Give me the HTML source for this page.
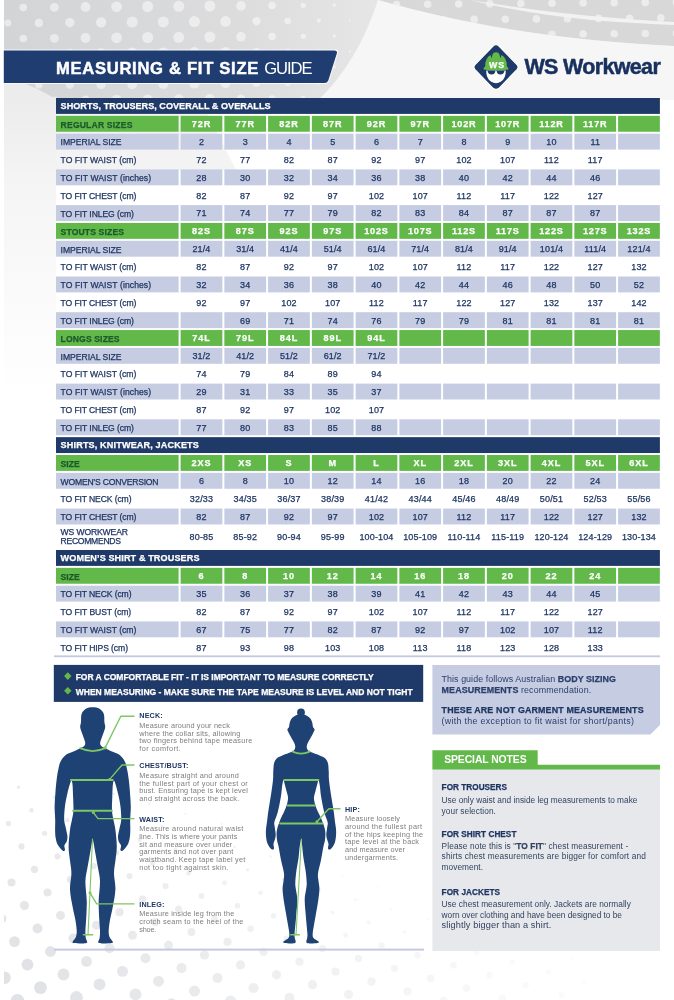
<!DOCTYPE html>
<html lang="en"><head><meta charset="utf-8"><title>WS Workwear - Measuring &amp; Fit Size Guide</title>
<style>
html,body{margin:0;padding:0}
body{width:674px;height:1000px;position:relative;overflow:hidden;background:#fff;font-family:"Liberation Sans",sans-serif;color:#1f3562}
.t{position:absolute;white-space:nowrap;line-height:1}
.s{-webkit-text-stroke:0.25px #1f3562}
b{-webkit-text-stroke:0.25px}
.sn{-webkit-text-stroke:0.5px #18305d}
.sw{-webkit-text-stroke:0.45px #fff}
.sw2{-webkit-text-stroke:0.25px #fff}
.sg{-webkit-text-stroke:0.25px #1c5a2c}
svg{position:absolute;left:0;top:0}
</style></head><body>
<svg width="674" height="1000" viewBox="0 0 674 1000">
<defs>
<linearGradient id="gt" x1="0" y1="0" x2="1" y2="0"><stop offset="0" stop-color="#d2d4d6"/><stop offset="0.35" stop-color="#dcdcdd"/><stop offset="0.56" stop-color="#e6e6e6"/><stop offset="1" stop-color="#e9e9e9"/></linearGradient>
<linearGradient id="gl" x1="0" y1="0" x2="0" y2="1"><stop offset="0" stop-color="#ececec"/><stop offset="0.3" stop-color="#f5f5f5"/><stop offset="1" stop-color="#fff"/></linearGradient>
<linearGradient id="gb" x1="0" y1="0" x2="1" y2="0"><stop offset="0" stop-color="#d2d2d2"/><stop offset="1" stop-color="#e2e2e2"/></linearGradient>
<pattern id="dots" x="8" y="-7.5" width="31" height="30" patternUnits="userSpaceOnUse"><circle cx="15.5" cy="15.0" r="5.0" fill="#e9e9e9"/><circle cx="0" cy="0" r="5.0" fill="#e9e9e9"/><circle cx="0" cy="30" r="5.0" fill="#e9e9e9"/><circle cx="31" cy="0" r="5.0" fill="#e9e9e9"/><circle cx="31" cy="30" r="5.0" fill="#e9e9e9"/></pattern>
<pattern id="dots2" x="9" y="957.5" width="30.7" height="31.4" patternUnits="userSpaceOnUse"><circle cx="15.35" cy="15.7" r="6.3" fill="#e4e4e4"/><circle cx="0" cy="0" r="6.3" fill="#e4e4e4"/><circle cx="0" cy="31.4" r="6.3" fill="#e4e4e4"/><circle cx="30.7" cy="0" r="6.3" fill="#e4e4e4"/><circle cx="30.7" cy="31.4" r="6.3" fill="#e4e4e4"/></pattern>
<linearGradient id="m1g" x1="0" y1="0" x2="1" y2="0"><stop offset="0" stop-color="#fff"/><stop offset="0.45" stop-color="#fff" stop-opacity="0.6"/><stop offset="1" stop-color="#fff" stop-opacity="0.35"/></linearGradient>
<mask id="m1"><rect x="0" y="0" width="674" height="100" fill="url(#m1g)"/></mask>
<radialGradient id="m2g" gradientUnits="userSpaceOnUse" cx="0" cy="0" r="1" gradientTransform="translate(0 1000) scale(330 215)"><stop offset="0" stop-color="#fff"/><stop offset="0.4" stop-color="#fff" stop-opacity="0.7"/><stop offset="0.75" stop-color="#fff" stop-opacity="0.25"/><stop offset="1" stop-color="#fff" stop-opacity="0"/></radialGradient>
<radialGradient id="m3g" gradientUnits="userSpaceOnUse" cx="0" cy="0" r="1" gradientTransform="translate(150 1010) scale(440 80)"><stop offset="0" stop-color="#fff"/><stop offset="0.6" stop-color="#fff" stop-opacity="0.7"/><stop offset="1" stop-color="#fff" stop-opacity="0"/></radialGradient>
<mask id="m2"><rect x="0" y="700" width="674" height="300" fill="url(#m2g)"/><rect x="0" y="900" width="674" height="100" fill="url(#m3g)"/></mask>
<clipPath id="cpL"><rect x="4" y="0" width="400" height="100"/></clipPath><clipPath id="cpR"><path d="M378 0H674V46C560 40 470 26 378 0Z"/></clipPath>
</defs>
<rect x="4" y="0" width="670" height="100" fill="url(#gt)"/>
<path d="M378 0H674V46C560 40 470 26 378 0Z" fill="#d8d8d8"/>
<g fill="#fff" opacity="0.5" clip-path="url(#cpL)"><circle cx="-7.8" cy="7.8" r="3.3"/><circle cx="23.3" cy="7.5" r="3.8"/><circle cx="54.4" cy="7.3" r="4.4"/><circle cx="85.5" cy="7.0" r="4.9"/><circle cx="116.6" cy="6.8" r="5.4"/><circle cx="147.7" cy="6.5" r="5.5"/><circle cx="178.8" cy="6.3" r="5.5"/><circle cx="209.9" cy="6.0" r="5.5"/><circle cx="241.0" cy="5.8" r="4.8"/><circle cx="272.1" cy="5.5" r="3.7"/><circle cx="303.2" cy="5.3" r="2.6"/><circle cx="334.3" cy="5.0" r="1.6"/><circle cx="-23.4" cy="23.4" r="3.0"/><circle cx="7.8" cy="23.1" r="3.5"/><circle cx="38.9" cy="22.9" r="4.1"/><circle cx="69.9" cy="22.6" r="4.6"/><circle cx="101.1" cy="22.4" r="5.2"/><circle cx="132.2" cy="22.1" r="5.5"/><circle cx="163.3" cy="21.9" r="5.5"/><circle cx="194.4" cy="21.6" r="5.5"/><circle cx="225.5" cy="21.4" r="5.3"/><circle cx="256.6" cy="21.1" r="4.2"/><circle cx="287.7" cy="20.9" r="3.2"/><circle cx="318.8" cy="20.6" r="2.1"/><circle cx="349.9" cy="20.4" r="1.0"/><circle cx="-7.8" cy="38.8" r="3.3"/><circle cx="23.3" cy="38.5" r="3.8"/><circle cx="54.4" cy="38.3" r="4.4"/><circle cx="85.5" cy="38.0" r="4.9"/><circle cx="116.6" cy="37.8" r="5.4"/><circle cx="147.7" cy="37.5" r="5.5"/><circle cx="178.8" cy="37.3" r="5.5"/><circle cx="209.9" cy="37.0" r="5.5"/><circle cx="241.0" cy="36.8" r="4.8"/><circle cx="272.1" cy="36.5" r="3.7"/><circle cx="303.2" cy="36.3" r="2.6"/><circle cx="334.3" cy="36.0" r="1.6"/><circle cx="-23.4" cy="54.4" r="3.0"/><circle cx="7.8" cy="54.1" r="3.5"/><circle cx="38.9" cy="53.9" r="4.1"/><circle cx="69.9" cy="53.6" r="4.6"/><circle cx="101.1" cy="53.4" r="5.2"/><circle cx="132.2" cy="53.1" r="5.5"/><circle cx="163.3" cy="52.9" r="5.5"/><circle cx="194.4" cy="52.6" r="5.5"/><circle cx="225.5" cy="52.4" r="5.3"/><circle cx="256.6" cy="52.1" r="4.2"/><circle cx="287.7" cy="51.9" r="3.2"/><circle cx="318.8" cy="51.7" r="2.1"/><circle cx="349.9" cy="51.4" r="1.0"/><circle cx="-7.8" cy="69.8" r="3.3"/><circle cx="23.3" cy="69.5" r="3.8"/><circle cx="54.4" cy="69.3" r="4.4"/><circle cx="85.5" cy="69.0" r="4.9"/><circle cx="116.6" cy="68.8" r="5.4"/><circle cx="147.7" cy="68.5" r="5.5"/><circle cx="178.8" cy="68.3" r="5.5"/><circle cx="209.9" cy="68.0" r="5.5"/><circle cx="241.0" cy="67.8" r="4.8"/><circle cx="272.1" cy="67.5" r="3.7"/><circle cx="303.2" cy="67.3" r="2.6"/><circle cx="334.3" cy="67.0" r="1.6"/><circle cx="-23.4" cy="85.4" r="2.7"/><circle cx="7.8" cy="85.1" r="3.2"/><circle cx="38.9" cy="84.9" r="3.7"/><circle cx="69.9" cy="84.6" r="4.2"/><circle cx="101.1" cy="84.4" r="4.7"/><circle cx="132.2" cy="84.1" r="5.0"/><circle cx="163.3" cy="83.9" r="5.0"/><circle cx="194.4" cy="83.6" r="5.0"/><circle cx="225.5" cy="83.4" r="4.8"/><circle cx="256.6" cy="83.1" r="3.8"/><circle cx="287.7" cy="82.9" r="2.9"/><circle cx="318.8" cy="82.7" r="1.9"/><circle cx="349.9" cy="82.4" r="0.9"/><circle cx="-7.8" cy="100.8" r="2.9"/><circle cx="23.3" cy="100.5" r="3.4"/><circle cx="54.4" cy="100.3" r="3.9"/><circle cx="85.5" cy="100.0" r="4.4"/><circle cx="116.6" cy="99.8" r="4.9"/><circle cx="147.7" cy="99.5" r="5.0"/><circle cx="178.8" cy="99.3" r="5.0"/><circle cx="209.9" cy="99.0" r="5.0"/><circle cx="241.0" cy="98.8" r="4.3"/><circle cx="272.1" cy="98.5" r="3.3"/><circle cx="303.2" cy="98.3" r="2.4"/><circle cx="334.3" cy="98.0" r="1.4"/></g><g fill="#fff" opacity="0.5" clip-path="url(#cpR)"><circle cx="396.5" cy="4.5" r="3.8"/><circle cx="427.6" cy="4.3" r="3.8"/><circle cx="458.7" cy="4.0" r="3.8"/><circle cx="489.8" cy="3.8" r="3.8"/><circle cx="520.9" cy="3.5" r="3.8"/><circle cx="552.0" cy="3.3" r="3.8"/><circle cx="583.1" cy="3.0" r="3.8"/><circle cx="614.2" cy="2.8" r="3.8"/><circle cx="645.3" cy="2.5" r="3.8"/><circle cx="676.4" cy="2.3" r="3.8"/><circle cx="707.5" cy="2.0" r="3.8"/><circle cx="738.6" cy="1.8" r="3.8"/><circle cx="412.1" cy="19.9" r="3.8"/><circle cx="443.2" cy="19.7" r="3.8"/><circle cx="474.2" cy="19.4" r="3.8"/><circle cx="505.3" cy="19.2" r="3.8"/><circle cx="536.4" cy="18.9" r="3.8"/><circle cx="567.5" cy="18.7" r="3.8"/><circle cx="598.6" cy="18.4" r="3.8"/><circle cx="629.7" cy="18.2" r="3.8"/><circle cx="660.8" cy="17.9" r="3.8"/><circle cx="691.9" cy="17.7" r="3.8"/><circle cx="723.0" cy="17.4" r="3.8"/><circle cx="396.5" cy="35.5" r="3.8"/><circle cx="427.6" cy="35.3" r="3.8"/><circle cx="458.7" cy="35.0" r="3.8"/><circle cx="489.8" cy="34.8" r="3.8"/><circle cx="520.9" cy="34.5" r="3.8"/><circle cx="552.0" cy="34.3" r="3.8"/><circle cx="583.1" cy="34.0" r="3.8"/><circle cx="614.2" cy="33.8" r="3.8"/><circle cx="645.3" cy="33.5" r="3.8"/><circle cx="676.4" cy="33.3" r="3.8"/><circle cx="707.5" cy="33.0" r="3.8"/><circle cx="738.6" cy="32.8" r="3.8"/><circle cx="412.1" cy="50.9" r="3.8"/><circle cx="443.2" cy="50.7" r="3.8"/><circle cx="474.2" cy="50.4" r="3.8"/><circle cx="505.3" cy="50.2" r="3.8"/><circle cx="536.4" cy="49.9" r="3.8"/><circle cx="567.5" cy="49.7" r="3.8"/><circle cx="598.6" cy="49.4" r="3.8"/><circle cx="629.7" cy="49.2" r="3.8"/><circle cx="660.8" cy="48.9" r="3.8"/><circle cx="691.9" cy="48.7" r="3.8"/><circle cx="723.0" cy="48.4" r="3.8"/></g>
<path d="M378 0C470 26 560 40 674 46V100H318C345 75 365 40 378 0Z" fill="#f6f6f6"/>
<path d="M470 0C540 12 600 18 674 22V25C600 22 540 17 470 0Z" fill="#f2f2f2"/>
<rect x="4" y="100" width="52" height="300" fill="url(#gl)"/>
<path d="M4 84H26C40 90 50 95 56 100H4Z" fill="#ececec"/>
<path d="M56 100H200L236 170H56Z" fill="#f3f3f3"/>
<g fill="#e1e2e5"><circle cx="4.5" cy="977.7" r="6.3" opacity="1.00"/><circle cx="17.5" cy="1000.7" r="6.8" opacity="1.00"/><circle cx="1.5" cy="918.6" r="4.9" opacity="0.91"/><circle cx="14.5" cy="941.6" r="5.4" opacity="0.95"/><circle cx="27.5" cy="964.6" r="5.9" opacity="0.99"/><circle cx="40.5" cy="987.6" r="6.4" opacity="0.99"/><circle cx="-1.5" cy="859.5" r="3.5" opacity="0.79"/><circle cx="11.5" cy="882.5" r="4.0" opacity="0.83"/><circle cx="24.5" cy="905.5" r="4.5" opacity="0.87"/><circle cx="37.5" cy="928.5" r="5.0" opacity="0.90"/><circle cx="50.5" cy="951.5" r="5.4" opacity="0.92"/><circle cx="63.5" cy="974.5" r="5.9" opacity="0.94"/><circle cx="76.5" cy="997.5" r="6.4" opacity="0.93"/><circle cx="-4.5" cy="800.4" r="2.1" opacity="0.68"/><circle cx="8.5" cy="823.4" r="2.6" opacity="0.72"/><circle cx="21.5" cy="846.4" r="3.1" opacity="0.76"/><circle cx="34.5" cy="869.4" r="3.6" opacity="0.79"/><circle cx="47.5" cy="892.4" r="4.0" opacity="0.82"/><circle cx="60.5" cy="915.4" r="4.5" opacity="0.84"/><circle cx="73.5" cy="938.4" r="5.0" opacity="0.85"/><circle cx="86.5" cy="961.4" r="5.4" opacity="0.87"/><circle cx="99.5" cy="984.4" r="5.9" opacity="0.89"/><circle cx="112.5" cy="1007.4" r="6.4" opacity="0.87"/><circle cx="18.5" cy="787.3" r="1.7" opacity="0.64"/><circle cx="31.5" cy="810.3" r="2.2" opacity="0.68"/><circle cx="44.5" cy="833.3" r="2.6" opacity="0.70"/><circle cx="57.5" cy="856.3" r="3.1" opacity="0.73"/><circle cx="70.5" cy="879.3" r="3.6" opacity="0.75"/><circle cx="83.5" cy="902.3" r="4.0" opacity="0.77"/><circle cx="96.5" cy="925.3" r="4.5" opacity="0.79"/><circle cx="109.5" cy="948.3" r="5.0" opacity="0.80"/><circle cx="122.5" cy="971.3" r="5.5" opacity="0.82"/><circle cx="135.5" cy="994.3" r="5.9" opacity="0.83"/><circle cx="54.5" cy="797.2" r="1.7" opacity="0.62"/><circle cx="67.5" cy="820.2" r="2.2" opacity="0.64"/><circle cx="80.5" cy="843.2" r="2.6" opacity="0.67"/><circle cx="93.5" cy="866.2" r="3.1" opacity="0.69"/><circle cx="106.5" cy="889.2" r="3.6" opacity="0.71"/><circle cx="119.5" cy="912.2" r="4.1" opacity="0.72"/><circle cx="132.5" cy="935.2" r="4.5" opacity="0.74"/><circle cx="145.5" cy="958.2" r="5.0" opacity="0.75"/><circle cx="158.5" cy="981.2" r="5.5" opacity="0.77"/><circle cx="171.5" cy="1004.2" r="5.9" opacity="0.78"/><circle cx="77.5" cy="784.1" r="1.2" opacity="0.56"/><circle cx="90.5" cy="807.1" r="1.7" opacity="0.58"/><circle cx="103.5" cy="830.1" r="2.2" opacity="0.61"/><circle cx="116.5" cy="853.1" r="2.7" opacity="0.63"/><circle cx="129.5" cy="876.1" r="3.1" opacity="0.64"/><circle cx="142.5" cy="899.1" r="3.6" opacity="0.66"/><circle cx="155.5" cy="922.1" r="4.0" opacity="0.68"/><circle cx="168.5" cy="945.1" r="4.5" opacity="0.69"/><circle cx="181.5" cy="968.1" r="5.0" opacity="0.70"/><circle cx="194.5" cy="991.1" r="5.5" opacity="0.71"/><circle cx="113.5" cy="794.0" r="1.3" opacity="0.53"/><circle cx="126.5" cy="817.0" r="1.7" opacity="0.55"/><circle cx="139.5" cy="840.0" r="2.2" opacity="0.57"/><circle cx="152.5" cy="863.0" r="2.7" opacity="0.59"/><circle cx="165.5" cy="886.0" r="3.1" opacity="0.60"/><circle cx="178.5" cy="909.0" r="3.5" opacity="0.61"/><circle cx="191.5" cy="932.0" r="3.9" opacity="0.62"/><circle cx="204.5" cy="955.0" r="4.6" opacity="0.64"/><circle cx="217.5" cy="978.0" r="5.0" opacity="0.65"/><circle cx="230.5" cy="1001.0" r="5.5" opacity="0.66"/><circle cx="149.5" cy="803.9" r="1.3" opacity="0.49"/><circle cx="162.5" cy="826.9" r="1.7" opacity="0.51"/><circle cx="175.5" cy="849.9" r="2.1" opacity="0.52"/><circle cx="188.5" cy="872.9" r="2.5" opacity="0.54"/><circle cx="201.5" cy="895.9" r="2.9" opacity="0.55"/><circle cx="214.5" cy="918.9" r="3.4" opacity="0.56"/><circle cx="227.5" cy="941.9" r="4.1" opacity="0.58"/><circle cx="240.5" cy="964.9" r="4.6" opacity="0.59"/><circle cx="253.5" cy="987.9" r="5.0" opacity="0.60"/><circle cx="185.5" cy="813.8" r="1.1" opacity="0.45"/><circle cx="198.5" cy="836.8" r="1.6" opacity="0.47"/><circle cx="211.5" cy="859.8" r="2.0" opacity="0.48"/><circle cx="224.5" cy="882.8" r="2.4" opacity="0.49"/><circle cx="237.5" cy="905.8" r="2.8" opacity="0.50"/><circle cx="250.5" cy="928.8" r="3.2" opacity="0.51"/><circle cx="263.5" cy="951.8" r="4.1" opacity="0.54"/><circle cx="276.5" cy="974.8" r="4.6" opacity="0.54"/><circle cx="289.5" cy="997.8" r="5.1" opacity="0.55"/><circle cx="221.5" cy="823.7" r="1.0" opacity="0.41"/><circle cx="234.5" cy="846.7" r="1.4" opacity="0.42"/><circle cx="247.5" cy="869.7" r="1.8" opacity="0.43"/><circle cx="260.5" cy="892.7" r="2.3" opacity="0.44"/><circle cx="273.5" cy="915.7" r="2.7" opacity="0.45"/><circle cx="286.5" cy="938.7" r="3.1" opacity="0.46"/><circle cx="299.5" cy="961.7" r="4.1" opacity="0.49"/><circle cx="312.5" cy="984.7" r="4.6" opacity="0.50"/><circle cx="325.5" cy="1007.7" r="5.1" opacity="0.50"/><circle cx="270.5" cy="856.6" r="1.3" opacity="0.38"/><circle cx="283.5" cy="879.6" r="1.7" opacity="0.39"/><circle cx="296.5" cy="902.6" r="2.1" opacity="0.40"/><circle cx="309.5" cy="925.6" r="2.6" opacity="0.40"/><circle cx="322.5" cy="948.6" r="3.7" opacity="0.44"/><circle cx="335.5" cy="971.6" r="4.1" opacity="0.44"/><circle cx="348.5" cy="994.6" r="4.6" opacity="0.45"/><circle cx="306.5" cy="866.5" r="1.2" opacity="0.34"/><circle cx="319.5" cy="889.5" r="1.6" opacity="0.35"/><circle cx="332.5" cy="912.5" r="2.0" opacity="0.35"/><circle cx="345.5" cy="935.5" r="2.4" opacity="0.36"/><circle cx="358.5" cy="958.5" r="3.7" opacity="0.40"/><circle cx="371.5" cy="981.5" r="4.2" opacity="0.40"/><circle cx="384.5" cy="1004.5" r="4.6" opacity="0.40"/><circle cx="342.5" cy="876.4" r="1.0" opacity="0.30"/><circle cx="355.5" cy="899.4" r="1.5" opacity="0.31"/><circle cx="368.5" cy="922.4" r="1.9" opacity="0.31"/><circle cx="381.5" cy="945.4" r="3.2" opacity="0.35"/><circle cx="394.5" cy="968.4" r="3.7" opacity="0.35"/><circle cx="407.5" cy="991.4" r="4.2" opacity="0.35"/><circle cx="378.5" cy="886.3" r="0.9" opacity="0.26"/><circle cx="391.5" cy="909.3" r="1.3" opacity="0.27"/><circle cx="404.5" cy="932.3" r="1.7" opacity="0.27"/><circle cx="417.5" cy="955.3" r="3.2" opacity="0.31"/><circle cx="430.5" cy="978.3" r="3.7" opacity="0.31"/><circle cx="443.5" cy="1001.3" r="4.2" opacity="0.30"/><circle cx="427.5" cy="919.2" r="1.2" opacity="0.23"/><circle cx="440.5" cy="942.2" r="2.8" opacity="0.26"/><circle cx="453.5" cy="965.2" r="3.3" opacity="0.26"/><circle cx="466.5" cy="988.2" r="3.7" opacity="0.26"/><circle cx="463.5" cy="929.1" r="1.1" opacity="0.19"/><circle cx="476.5" cy="952.1" r="2.8" opacity="0.22"/><circle cx="489.5" cy="975.1" r="3.3" opacity="0.22"/><circle cx="502.5" cy="998.1" r="3.7" opacity="0.21"/><circle cx="499.5" cy="939.0" r="0.9" opacity="0.16"/><circle cx="512.5" cy="962.0" r="2.8" opacity="0.18"/><circle cx="525.5" cy="985.0" r="3.3" opacity="0.18"/><circle cx="538.5" cy="1008.0" r="3.8" opacity="0.17"/><circle cx="535.5" cy="948.9" r="2.4" opacity="0.15"/><circle cx="548.5" cy="971.9" r="2.8" opacity="0.14"/><circle cx="561.5" cy="994.9" r="3.3" opacity="0.13"/><circle cx="571.5" cy="958.8" r="2.4" opacity="0.11"/><circle cx="584.5" cy="981.8" r="2.8" opacity="0.10"/><circle cx="597.5" cy="1004.8" r="3.3" opacity="0.09"/></g>
<rect x="0" y="780" width="4" height="220" fill="#fff"/>
</svg>
<svg width="674" height="1000" viewBox="0 0 674 1000">
<rect x="56.0" y="98.00" width="603.90" height="15.9" fill="#1f3a68"/>
<rect x="56.0" y="115.85" width="122.6" height="15.9" fill="#62b94a"/>
<rect x="180.60" y="115.85" width="41.75" height="15.9" fill="#62b94a"/>
<rect x="224.35" y="115.85" width="41.75" height="15.9" fill="#62b94a"/>
<rect x="268.10" y="115.85" width="41.75" height="15.9" fill="#62b94a"/>
<rect x="311.85" y="115.85" width="41.75" height="15.9" fill="#62b94a"/>
<rect x="355.60" y="115.85" width="41.75" height="15.9" fill="#62b94a"/>
<rect x="399.35" y="115.85" width="41.75" height="15.9" fill="#62b94a"/>
<rect x="443.10" y="115.85" width="41.75" height="15.9" fill="#62b94a"/>
<rect x="486.85" y="115.85" width="41.75" height="15.9" fill="#62b94a"/>
<rect x="530.60" y="115.85" width="41.75" height="15.9" fill="#62b94a"/>
<rect x="574.35" y="115.85" width="41.75" height="15.9" fill="#62b94a"/>
<rect x="618.10" y="115.85" width="41.75" height="15.9" fill="#62b94a"/>
<rect x="56.0" y="133.70" width="122.6" height="15.9" fill="#c6cde3"/>
<rect x="180.60" y="133.70" width="41.75" height="15.9" fill="#c6cde3"/>
<rect x="224.35" y="133.70" width="41.75" height="15.9" fill="#c6cde3"/>
<rect x="268.10" y="133.70" width="41.75" height="15.9" fill="#c6cde3"/>
<rect x="311.85" y="133.70" width="41.75" height="15.9" fill="#c6cde3"/>
<rect x="355.60" y="133.70" width="41.75" height="15.9" fill="#c6cde3"/>
<rect x="399.35" y="133.70" width="41.75" height="15.9" fill="#c6cde3"/>
<rect x="443.10" y="133.70" width="41.75" height="15.9" fill="#c6cde3"/>
<rect x="486.85" y="133.70" width="41.75" height="15.9" fill="#c6cde3"/>
<rect x="530.60" y="133.70" width="41.75" height="15.9" fill="#c6cde3"/>
<rect x="574.35" y="133.70" width="41.75" height="15.9" fill="#c6cde3"/>
<rect x="618.10" y="133.70" width="41.75" height="15.9" fill="#c6cde3"/>
<rect x="56.0" y="169.40" width="122.6" height="15.9" fill="#c6cde3"/>
<rect x="180.60" y="169.40" width="41.75" height="15.9" fill="#c6cde3"/>
<rect x="224.35" y="169.40" width="41.75" height="15.9" fill="#c6cde3"/>
<rect x="268.10" y="169.40" width="41.75" height="15.9" fill="#c6cde3"/>
<rect x="311.85" y="169.40" width="41.75" height="15.9" fill="#c6cde3"/>
<rect x="355.60" y="169.40" width="41.75" height="15.9" fill="#c6cde3"/>
<rect x="399.35" y="169.40" width="41.75" height="15.9" fill="#c6cde3"/>
<rect x="443.10" y="169.40" width="41.75" height="15.9" fill="#c6cde3"/>
<rect x="486.85" y="169.40" width="41.75" height="15.9" fill="#c6cde3"/>
<rect x="530.60" y="169.40" width="41.75" height="15.9" fill="#c6cde3"/>
<rect x="574.35" y="169.40" width="41.75" height="15.9" fill="#c6cde3"/>
<rect x="618.10" y="169.40" width="41.75" height="15.9" fill="#c6cde3"/>
<rect x="56.0" y="205.10" width="122.6" height="15.9" fill="#c6cde3"/>
<rect x="180.60" y="205.10" width="41.75" height="15.9" fill="#c6cde3"/>
<rect x="224.35" y="205.10" width="41.75" height="15.9" fill="#c6cde3"/>
<rect x="268.10" y="205.10" width="41.75" height="15.9" fill="#c6cde3"/>
<rect x="311.85" y="205.10" width="41.75" height="15.9" fill="#c6cde3"/>
<rect x="355.60" y="205.10" width="41.75" height="15.9" fill="#c6cde3"/>
<rect x="399.35" y="205.10" width="41.75" height="15.9" fill="#c6cde3"/>
<rect x="443.10" y="205.10" width="41.75" height="15.9" fill="#c6cde3"/>
<rect x="486.85" y="205.10" width="41.75" height="15.9" fill="#c6cde3"/>
<rect x="530.60" y="205.10" width="41.75" height="15.9" fill="#c6cde3"/>
<rect x="574.35" y="205.10" width="41.75" height="15.9" fill="#c6cde3"/>
<rect x="618.10" y="205.10" width="41.75" height="15.9" fill="#c6cde3"/>
<rect x="56.0" y="222.95" width="122.6" height="15.9" fill="#62b94a"/>
<rect x="180.60" y="222.95" width="41.75" height="15.9" fill="#62b94a"/>
<rect x="224.35" y="222.95" width="41.75" height="15.9" fill="#62b94a"/>
<rect x="268.10" y="222.95" width="41.75" height="15.9" fill="#62b94a"/>
<rect x="311.85" y="222.95" width="41.75" height="15.9" fill="#62b94a"/>
<rect x="355.60" y="222.95" width="41.75" height="15.9" fill="#62b94a"/>
<rect x="399.35" y="222.95" width="41.75" height="15.9" fill="#62b94a"/>
<rect x="443.10" y="222.95" width="41.75" height="15.9" fill="#62b94a"/>
<rect x="486.85" y="222.95" width="41.75" height="15.9" fill="#62b94a"/>
<rect x="530.60" y="222.95" width="41.75" height="15.9" fill="#62b94a"/>
<rect x="574.35" y="222.95" width="41.75" height="15.9" fill="#62b94a"/>
<rect x="618.10" y="222.95" width="41.75" height="15.9" fill="#62b94a"/>
<rect x="56.0" y="240.80" width="122.6" height="15.9" fill="#c6cde3"/>
<rect x="180.60" y="240.80" width="41.75" height="15.9" fill="#c6cde3"/>
<rect x="224.35" y="240.80" width="41.75" height="15.9" fill="#c6cde3"/>
<rect x="268.10" y="240.80" width="41.75" height="15.9" fill="#c6cde3"/>
<rect x="311.85" y="240.80" width="41.75" height="15.9" fill="#c6cde3"/>
<rect x="355.60" y="240.80" width="41.75" height="15.9" fill="#c6cde3"/>
<rect x="399.35" y="240.80" width="41.75" height="15.9" fill="#c6cde3"/>
<rect x="443.10" y="240.80" width="41.75" height="15.9" fill="#c6cde3"/>
<rect x="486.85" y="240.80" width="41.75" height="15.9" fill="#c6cde3"/>
<rect x="530.60" y="240.80" width="41.75" height="15.9" fill="#c6cde3"/>
<rect x="574.35" y="240.80" width="41.75" height="15.9" fill="#c6cde3"/>
<rect x="618.10" y="240.80" width="41.75" height="15.9" fill="#c6cde3"/>
<rect x="56.0" y="276.50" width="122.6" height="15.9" fill="#c6cde3"/>
<rect x="180.60" y="276.50" width="41.75" height="15.9" fill="#c6cde3"/>
<rect x="224.35" y="276.50" width="41.75" height="15.9" fill="#c6cde3"/>
<rect x="268.10" y="276.50" width="41.75" height="15.9" fill="#c6cde3"/>
<rect x="311.85" y="276.50" width="41.75" height="15.9" fill="#c6cde3"/>
<rect x="355.60" y="276.50" width="41.75" height="15.9" fill="#c6cde3"/>
<rect x="399.35" y="276.50" width="41.75" height="15.9" fill="#c6cde3"/>
<rect x="443.10" y="276.50" width="41.75" height="15.9" fill="#c6cde3"/>
<rect x="486.85" y="276.50" width="41.75" height="15.9" fill="#c6cde3"/>
<rect x="530.60" y="276.50" width="41.75" height="15.9" fill="#c6cde3"/>
<rect x="574.35" y="276.50" width="41.75" height="15.9" fill="#c6cde3"/>
<rect x="618.10" y="276.50" width="41.75" height="15.9" fill="#c6cde3"/>
<rect x="56.0" y="312.20" width="122.6" height="15.9" fill="#c6cde3"/>
<rect x="180.60" y="312.20" width="41.75" height="15.9" fill="#c6cde3"/>
<rect x="224.35" y="312.20" width="41.75" height="15.9" fill="#c6cde3"/>
<rect x="268.10" y="312.20" width="41.75" height="15.9" fill="#c6cde3"/>
<rect x="311.85" y="312.20" width="41.75" height="15.9" fill="#c6cde3"/>
<rect x="355.60" y="312.20" width="41.75" height="15.9" fill="#c6cde3"/>
<rect x="399.35" y="312.20" width="41.75" height="15.9" fill="#c6cde3"/>
<rect x="443.10" y="312.20" width="41.75" height="15.9" fill="#c6cde3"/>
<rect x="486.85" y="312.20" width="41.75" height="15.9" fill="#c6cde3"/>
<rect x="530.60" y="312.20" width="41.75" height="15.9" fill="#c6cde3"/>
<rect x="574.35" y="312.20" width="41.75" height="15.9" fill="#c6cde3"/>
<rect x="618.10" y="312.20" width="41.75" height="15.9" fill="#c6cde3"/>
<rect x="56.0" y="330.05" width="122.6" height="15.9" fill="#62b94a"/>
<rect x="180.60" y="330.05" width="41.75" height="15.9" fill="#62b94a"/>
<rect x="224.35" y="330.05" width="41.75" height="15.9" fill="#62b94a"/>
<rect x="268.10" y="330.05" width="41.75" height="15.9" fill="#62b94a"/>
<rect x="311.85" y="330.05" width="41.75" height="15.9" fill="#62b94a"/>
<rect x="355.60" y="330.05" width="41.75" height="15.9" fill="#62b94a"/>
<rect x="399.35" y="330.05" width="41.75" height="15.9" fill="#62b94a"/>
<rect x="443.10" y="330.05" width="41.75" height="15.9" fill="#62b94a"/>
<rect x="486.85" y="330.05" width="41.75" height="15.9" fill="#62b94a"/>
<rect x="530.60" y="330.05" width="41.75" height="15.9" fill="#62b94a"/>
<rect x="574.35" y="330.05" width="41.75" height="15.9" fill="#62b94a"/>
<rect x="618.10" y="330.05" width="41.75" height="15.9" fill="#62b94a"/>
<rect x="56.0" y="347.90" width="122.6" height="15.9" fill="#c6cde3"/>
<rect x="180.60" y="347.90" width="41.75" height="15.9" fill="#c6cde3"/>
<rect x="224.35" y="347.90" width="41.75" height="15.9" fill="#c6cde3"/>
<rect x="268.10" y="347.90" width="41.75" height="15.9" fill="#c6cde3"/>
<rect x="311.85" y="347.90" width="41.75" height="15.9" fill="#c6cde3"/>
<rect x="355.60" y="347.90" width="41.75" height="15.9" fill="#c6cde3"/>
<rect x="399.35" y="347.90" width="41.75" height="15.9" fill="#c6cde3"/>
<rect x="443.10" y="347.90" width="41.75" height="15.9" fill="#c6cde3"/>
<rect x="486.85" y="347.90" width="41.75" height="15.9" fill="#c6cde3"/>
<rect x="530.60" y="347.90" width="41.75" height="15.9" fill="#c6cde3"/>
<rect x="574.35" y="347.90" width="41.75" height="15.9" fill="#c6cde3"/>
<rect x="618.10" y="347.90" width="41.75" height="15.9" fill="#c6cde3"/>
<rect x="56.0" y="383.60" width="122.6" height="15.9" fill="#c6cde3"/>
<rect x="180.60" y="383.60" width="41.75" height="15.9" fill="#c6cde3"/>
<rect x="224.35" y="383.60" width="41.75" height="15.9" fill="#c6cde3"/>
<rect x="268.10" y="383.60" width="41.75" height="15.9" fill="#c6cde3"/>
<rect x="311.85" y="383.60" width="41.75" height="15.9" fill="#c6cde3"/>
<rect x="355.60" y="383.60" width="41.75" height="15.9" fill="#c6cde3"/>
<rect x="399.35" y="383.60" width="41.75" height="15.9" fill="#c6cde3"/>
<rect x="443.10" y="383.60" width="41.75" height="15.9" fill="#c6cde3"/>
<rect x="486.85" y="383.60" width="41.75" height="15.9" fill="#c6cde3"/>
<rect x="530.60" y="383.60" width="41.75" height="15.9" fill="#c6cde3"/>
<rect x="574.35" y="383.60" width="41.75" height="15.9" fill="#c6cde3"/>
<rect x="618.10" y="383.60" width="41.75" height="15.9" fill="#c6cde3"/>
<rect x="56.0" y="419.30" width="122.6" height="15.9" fill="#c6cde3"/>
<rect x="180.60" y="419.30" width="41.75" height="15.9" fill="#c6cde3"/>
<rect x="224.35" y="419.30" width="41.75" height="15.9" fill="#c6cde3"/>
<rect x="268.10" y="419.30" width="41.75" height="15.9" fill="#c6cde3"/>
<rect x="311.85" y="419.30" width="41.75" height="15.9" fill="#c6cde3"/>
<rect x="355.60" y="419.30" width="41.75" height="15.9" fill="#c6cde3"/>
<rect x="399.35" y="419.30" width="41.75" height="15.9" fill="#c6cde3"/>
<rect x="443.10" y="419.30" width="41.75" height="15.9" fill="#c6cde3"/>
<rect x="486.85" y="419.30" width="41.75" height="15.9" fill="#c6cde3"/>
<rect x="530.60" y="419.30" width="41.75" height="15.9" fill="#c6cde3"/>
<rect x="574.35" y="419.30" width="41.75" height="15.9" fill="#c6cde3"/>
<rect x="618.10" y="419.30" width="41.75" height="15.9" fill="#c6cde3"/>
<rect x="56.0" y="437.15" width="603.90" height="15.9" fill="#1f3a68"/>
<rect x="56.0" y="455.00" width="122.6" height="15.9" fill="#62b94a"/>
<rect x="180.60" y="455.00" width="41.75" height="15.9" fill="#62b94a"/>
<rect x="224.35" y="455.00" width="41.75" height="15.9" fill="#62b94a"/>
<rect x="268.10" y="455.00" width="41.75" height="15.9" fill="#62b94a"/>
<rect x="311.85" y="455.00" width="41.75" height="15.9" fill="#62b94a"/>
<rect x="355.60" y="455.00" width="41.75" height="15.9" fill="#62b94a"/>
<rect x="399.35" y="455.00" width="41.75" height="15.9" fill="#62b94a"/>
<rect x="443.10" y="455.00" width="41.75" height="15.9" fill="#62b94a"/>
<rect x="486.85" y="455.00" width="41.75" height="15.9" fill="#62b94a"/>
<rect x="530.60" y="455.00" width="41.75" height="15.9" fill="#62b94a"/>
<rect x="574.35" y="455.00" width="41.75" height="15.9" fill="#62b94a"/>
<rect x="618.10" y="455.00" width="41.75" height="15.9" fill="#62b94a"/>
<rect x="56.0" y="472.85" width="122.6" height="15.9" fill="#c6cde3"/>
<rect x="180.60" y="472.85" width="41.75" height="15.9" fill="#c6cde3"/>
<rect x="224.35" y="472.85" width="41.75" height="15.9" fill="#c6cde3"/>
<rect x="268.10" y="472.85" width="41.75" height="15.9" fill="#c6cde3"/>
<rect x="311.85" y="472.85" width="41.75" height="15.9" fill="#c6cde3"/>
<rect x="355.60" y="472.85" width="41.75" height="15.9" fill="#c6cde3"/>
<rect x="399.35" y="472.85" width="41.75" height="15.9" fill="#c6cde3"/>
<rect x="443.10" y="472.85" width="41.75" height="15.9" fill="#c6cde3"/>
<rect x="486.85" y="472.85" width="41.75" height="15.9" fill="#c6cde3"/>
<rect x="530.60" y="472.85" width="41.75" height="15.9" fill="#c6cde3"/>
<rect x="574.35" y="472.85" width="41.75" height="15.9" fill="#c6cde3"/>
<rect x="618.10" y="472.85" width="41.75" height="15.9" fill="#c6cde3"/>
<rect x="56.0" y="508.55" width="122.6" height="15.9" fill="#c6cde3"/>
<rect x="180.60" y="508.55" width="41.75" height="15.9" fill="#c6cde3"/>
<rect x="224.35" y="508.55" width="41.75" height="15.9" fill="#c6cde3"/>
<rect x="268.10" y="508.55" width="41.75" height="15.9" fill="#c6cde3"/>
<rect x="311.85" y="508.55" width="41.75" height="15.9" fill="#c6cde3"/>
<rect x="355.60" y="508.55" width="41.75" height="15.9" fill="#c6cde3"/>
<rect x="399.35" y="508.55" width="41.75" height="15.9" fill="#c6cde3"/>
<rect x="443.10" y="508.55" width="41.75" height="15.9" fill="#c6cde3"/>
<rect x="486.85" y="508.55" width="41.75" height="15.9" fill="#c6cde3"/>
<rect x="530.60" y="508.55" width="41.75" height="15.9" fill="#c6cde3"/>
<rect x="574.35" y="508.55" width="41.75" height="15.9" fill="#c6cde3"/>
<rect x="618.10" y="508.55" width="41.75" height="15.9" fill="#c6cde3"/>
<rect x="56.0" y="550.00" width="603.90" height="15.9" fill="#1f3a68"/>
<rect x="56.0" y="567.85" width="122.6" height="15.9" fill="#62b94a"/>
<rect x="180.60" y="567.85" width="41.75" height="15.9" fill="#62b94a"/>
<rect x="224.35" y="567.85" width="41.75" height="15.9" fill="#62b94a"/>
<rect x="268.10" y="567.85" width="41.75" height="15.9" fill="#62b94a"/>
<rect x="311.85" y="567.85" width="41.75" height="15.9" fill="#62b94a"/>
<rect x="355.60" y="567.85" width="41.75" height="15.9" fill="#62b94a"/>
<rect x="399.35" y="567.85" width="41.75" height="15.9" fill="#62b94a"/>
<rect x="443.10" y="567.85" width="41.75" height="15.9" fill="#62b94a"/>
<rect x="486.85" y="567.85" width="41.75" height="15.9" fill="#62b94a"/>
<rect x="530.60" y="567.85" width="41.75" height="15.9" fill="#62b94a"/>
<rect x="574.35" y="567.85" width="41.75" height="15.9" fill="#62b94a"/>
<rect x="618.10" y="567.85" width="41.75" height="15.9" fill="#62b94a"/>
<rect x="56.0" y="585.70" width="122.6" height="15.9" fill="#c6cde3"/>
<rect x="180.60" y="585.70" width="41.75" height="15.9" fill="#c6cde3"/>
<rect x="224.35" y="585.70" width="41.75" height="15.9" fill="#c6cde3"/>
<rect x="268.10" y="585.70" width="41.75" height="15.9" fill="#c6cde3"/>
<rect x="311.85" y="585.70" width="41.75" height="15.9" fill="#c6cde3"/>
<rect x="355.60" y="585.70" width="41.75" height="15.9" fill="#c6cde3"/>
<rect x="399.35" y="585.70" width="41.75" height="15.9" fill="#c6cde3"/>
<rect x="443.10" y="585.70" width="41.75" height="15.9" fill="#c6cde3"/>
<rect x="486.85" y="585.70" width="41.75" height="15.9" fill="#c6cde3"/>
<rect x="530.60" y="585.70" width="41.75" height="15.9" fill="#c6cde3"/>
<rect x="574.35" y="585.70" width="41.75" height="15.9" fill="#c6cde3"/>
<rect x="618.10" y="585.70" width="41.75" height="15.9" fill="#c6cde3"/>
<rect x="56.0" y="621.40" width="122.6" height="15.9" fill="#c6cde3"/>
<rect x="180.60" y="621.40" width="41.75" height="15.9" fill="#c6cde3"/>
<rect x="224.35" y="621.40" width="41.75" height="15.9" fill="#c6cde3"/>
<rect x="268.10" y="621.40" width="41.75" height="15.9" fill="#c6cde3"/>
<rect x="311.85" y="621.40" width="41.75" height="15.9" fill="#c6cde3"/>
<rect x="355.60" y="621.40" width="41.75" height="15.9" fill="#c6cde3"/>
<rect x="399.35" y="621.40" width="41.75" height="15.9" fill="#c6cde3"/>
<rect x="443.10" y="621.40" width="41.75" height="15.9" fill="#c6cde3"/>
<rect x="486.85" y="621.40" width="41.75" height="15.9" fill="#c6cde3"/>
<rect x="530.60" y="621.40" width="41.75" height="15.9" fill="#c6cde3"/>
<rect x="574.35" y="621.40" width="41.75" height="15.9" fill="#c6cde3"/>
<rect x="618.10" y="621.40" width="41.75" height="15.9" fill="#c6cde3"/>

<path d="M3.8 49.6H335.5Q339 49.6 338 53L329.2 81Q328.2 84 325 84H3.8Z" fill="#fff" opacity="0.8"/>
<path d="M3.8 50.6H334.5Q337.8 50.6 336.8 53.6L328.3 80.4Q327.4 83 324.4 83H3.8Z" fill="#1f3d70"/>

<g>
<path d="M496 44.6Q497.6 44.6 499 46L517.2 64.8Q519 67.1 517.2 69.4L499 88.3Q496 90.6 493 88.3L474.8 69.4Q473 67.1 474.8 64.8L493 46Q494.4 44.6 496 44.6Z" fill="#1f3a68" stroke="#fff" stroke-width="1.2"/>
<path d="M486.2 70.4H505.8Q506 78 501 81.6Q496 85 491 81.6Q486 78 486.2 70.4Z" fill="#fff"/>
<path d="M487.5 70.6H495.4Q495.3 74.6 491.6 74.6Q487.9 74.6 487.5 70.6ZM496.6 70.6H504.5Q504.1 74.6 500.4 74.6Q496.7 74.6 496.6 70.6Z" fill="#1f3a68"/>
<path d="M483.6 69.6Q483.2 67 485.2 66.4Q485 58 490.6 55L491.4 58.4L492.6 54.2Q493 52.2 496 52.2Q499 52.2 499.4 54.2L500.6 58.4L501.4 55Q507 58 506.8 66.4Q508.8 67 508.4 69.6Q496 71.6 483.6 69.6Z" fill="#62b94a"/>
</g>

<rect x="54" y="655.4" width="606" height="1.8" fill="#c4c9e0"/>
<rect x="53.8" y="664.9" width="369.4" height="37" fill="#1f3a68"/>
<path d="M67.8 672.3L71.5 676.1L67.8 679.9L64.1 676.1ZM67.8 687L71.5 690.8L67.8 694.6L64.1 690.8Z" fill="#62b94a"/>
<path d="M432.4 665H660V725L650.4 734.5H432.4Z" fill="#c6cde3"/>
<rect x="432.4" y="769" width="227.6" height="182" fill="#e6e8ec"/>
<path d="M432.4 750.3H537.7V764.7H660V769.6H432.4Z" fill="#62b94a"/>
<rect x="54" y="948.6" width="370" height="2" fill="#c4c9e0"/>

<path d="M92.7 707.3C95.0 707.3 97.7 707.7 99.5 708.8C101.3 709.9 103.0 711.8 103.8 714.0C104.6 716.2 104.2 719.8 104.4 722.0C104.6 724.2 105.3 725.3 105.2 727.0C105.1 728.7 104.4 730.2 103.8 732.0C103.2 733.8 102.4 735.8 101.8 737.5C101.2 739.2 100.5 740.7 100.3 742.0C100.1 743.3 100.0 744.5 100.8 745.5C101.6 746.5 103.1 747.3 105.0 748.3C106.9 749.3 109.6 750.4 112.0 751.5C114.4 752.6 117.3 753.1 119.4 754.7C121.5 756.4 123.5 758.9 124.8 761.4C126.1 763.9 126.5 766.9 127.2 770.0C127.9 773.1 128.3 776.2 128.8 780.0C129.3 783.8 129.7 788.5 130.0 793.0C130.3 797.5 130.8 802.3 130.8 806.8C130.8 811.3 130.3 816.0 130.2 820.0C130.1 824.0 130.4 827.8 130.3 830.7C130.2 833.6 130.2 835.2 129.8 837.4C129.4 839.6 128.9 842.1 128.1 844.0C127.2 845.9 125.7 847.5 124.7 848.7C123.7 849.9 122.7 850.8 122.0 851.0C121.3 851.2 120.6 850.9 120.4 850.0C120.2 849.1 121.3 846.8 121.0 845.4C120.7 844.0 119.2 843.0 118.7 841.4C118.2 839.8 117.8 838.2 118.0 836.0C118.2 833.8 119.1 830.7 119.6 828.0C120.1 825.3 121.0 823.5 121.2 820.0C121.4 816.5 121.0 811.2 120.5 806.8C120.0 802.4 119.0 797.7 118.0 793.5C117.0 789.3 115.4 783.2 114.6 781.5C113.8 779.8 113.4 780.9 113.0 783.5C112.6 786.1 112.5 792.5 112.3 797.0C112.1 801.5 111.8 807.0 112.0 810.8C112.2 814.6 112.9 816.8 113.5 820.0C114.1 823.2 114.9 825.5 115.4 830.0C116.0 834.5 116.8 841.7 116.8 846.7C116.8 851.7 116.0 855.5 115.5 860.0C115.0 864.5 114.0 868.5 114.0 873.4C114.0 878.3 115.6 883.8 115.4 889.4C115.2 895.0 113.7 901.7 112.8 906.8C111.9 911.9 110.7 916.0 110.0 920.0C109.3 924.0 108.8 928.0 108.7 930.8C108.6 933.6 108.9 935.2 109.5 937.0C110.1 938.8 112.2 940.3 112.5 941.3C112.8 942.3 113.8 942.7 111.5 943.0C109.2 943.3 100.9 943.8 98.9 943.0C96.9 942.2 99.4 940.0 99.6 938.0C99.8 936.0 100.1 934.6 100.0 930.8C99.9 927.0 99.2 920.1 99.0 915.0C98.8 909.9 98.5 905.6 98.7 900.0C98.9 894.4 100.1 886.7 100.0 881.4C99.9 876.1 98.8 872.7 98.0 868.0C97.2 863.3 96.2 857.7 95.4 853.4C94.6 849.1 93.9 844.5 93.4 842.0C92.9 839.5 92.8 838.7 92.6 838.7C92.4 838.7 92.4 839.5 92.0 842.0C91.6 844.5 90.8 849.1 90.0 853.4C89.2 857.7 88.2 863.3 87.4 868.0C86.6 872.7 85.5 876.1 85.4 881.4C85.3 886.7 86.5 894.4 86.7 900.0C86.9 905.6 86.6 909.9 86.4 915.0C86.2 920.1 85.5 927.0 85.4 930.8C85.3 934.6 85.6 936.0 85.8 938.0C86.0 940.0 88.5 942.2 86.5 943.0C84.5 943.8 76.2 943.3 73.9 943.0C71.6 942.7 72.6 942.3 72.9 941.3C73.2 940.3 75.3 938.8 75.9 937.0C76.5 935.2 76.8 933.6 76.7 930.8C76.6 928.0 76.1 924.0 75.4 920.0C74.7 916.0 73.5 911.9 72.6 906.8C71.7 901.7 70.2 895.0 70.0 889.4C69.8 883.8 71.4 878.3 71.4 873.4C71.4 868.5 70.4 864.5 69.9 860.0C69.4 855.5 68.6 851.7 68.6 846.7C68.6 841.7 69.5 834.5 70.0 830.0C70.5 825.5 71.3 823.2 71.9 820.0C72.5 816.8 73.2 814.6 73.4 810.8C73.6 807.0 73.3 801.5 73.1 797.0C72.9 792.5 72.8 786.1 72.4 783.5C72.0 780.9 71.6 779.8 70.8 781.5C70.0 783.2 68.4 789.3 67.4 793.5C66.4 797.7 65.4 802.4 64.9 806.8C64.4 811.2 64.0 816.5 64.2 820.0C64.4 823.5 65.3 825.3 65.8 828.0C66.3 830.7 67.2 833.8 67.4 836.0C67.6 838.2 67.2 839.8 66.7 841.4C66.2 843.0 64.7 844.0 64.4 845.4C64.1 846.8 65.2 849.1 65.0 850.0C64.8 850.9 64.1 851.2 63.4 851.0C62.7 850.8 61.7 849.9 60.7 848.7C59.7 847.5 58.2 845.9 57.3 844.0C56.5 842.1 56.0 839.6 55.6 837.4C55.2 835.2 55.2 833.6 55.1 830.7C55.0 827.8 55.3 824.0 55.2 820.0C55.1 816.0 54.6 811.3 54.6 806.8C54.6 802.3 55.1 797.5 55.4 793.0C55.7 788.5 56.1 783.8 56.6 780.0C57.1 776.2 57.5 773.1 58.2 770.0C58.9 766.9 59.3 763.9 60.6 761.4C61.9 758.9 63.9 756.4 66.0 754.7C68.1 753.1 71.0 752.6 73.4 751.5C75.8 750.4 78.5 749.3 80.4 748.3C82.3 747.3 83.8 746.5 84.6 745.5C85.4 744.5 85.3 743.3 85.1 742.0C84.9 740.7 84.2 739.2 83.6 737.5C83.0 735.8 82.2 733.8 81.6 732.0C81.0 730.2 80.3 728.7 80.2 727.0C80.1 725.3 80.8 724.2 81.0 722.0C81.2 719.8 80.8 716.2 81.6 714.0C82.4 711.8 84.1 709.9 85.9 708.8C87.8 707.7 90.4 707.3 92.7 707.3Z" fill="#1f4275"/>
<path d="M301.0 714.2C302.7 714.2 304.4 714.6 306.0 715.3C307.6 716.0 309.2 717.3 310.3 718.6C311.4 719.9 311.9 721.6 312.3 723.0C312.8 724.4 312.6 725.9 313.0 727.0C313.4 728.1 314.6 728.5 314.6 729.6C314.6 730.7 313.7 732.1 313.0 733.5C312.3 734.9 311.3 736.5 310.5 738.0C309.7 739.5 308.6 741.2 308.0 742.5C307.4 743.8 306.9 744.9 306.8 746.0C306.7 747.1 306.7 748.0 307.2 749.0C307.7 750.0 308.5 751.0 310.0 751.8C311.5 752.6 314.0 753.2 316.0 754.0C318.0 754.8 320.4 755.7 322.0 756.5C323.6 757.3 324.8 757.8 325.8 759.0C326.8 760.2 327.5 761.5 328.0 763.5C328.5 765.5 328.5 768.2 328.7 771.0C328.9 773.8 328.6 776.2 329.0 780.0C329.4 783.8 330.2 789.5 330.8 793.5C331.4 797.5 332.0 800.7 332.5 804.0C333.0 807.3 333.6 810.5 334.0 813.5C334.4 816.5 334.7 819.4 335.0 822.0C335.3 824.6 335.8 826.7 336.0 829.0C336.2 831.3 336.2 833.7 336.0 836.0C335.8 838.3 335.4 840.8 334.8 842.7C334.2 844.6 333.1 846.2 332.2 847.4C331.3 848.5 330.2 849.4 329.5 849.6C328.8 849.8 328.2 849.4 328.0 848.5C327.8 847.6 328.6 845.4 328.5 844.0C328.4 842.6 327.7 841.5 327.3 840.0C326.9 838.5 326.3 836.9 326.3 834.7C326.3 832.5 327.1 828.8 327.3 826.7C327.5 824.6 328.1 824.5 327.6 822.0C327.1 819.5 325.3 816.3 324.2 812.0C323.1 807.7 321.7 800.2 321.0 796.0C320.3 791.8 320.4 789.7 320.0 787.0C319.6 784.3 319.0 780.7 318.6 780.0C318.2 779.3 318.1 781.2 317.6 783.0C317.1 784.8 316.1 788.7 315.5 791.0C314.9 793.3 314.2 795.3 314.0 797.0C313.8 798.7 314.1 799.6 314.3 801.0C314.5 802.4 314.8 803.7 315.4 805.5C316.0 807.3 317.1 809.9 318.0 812.0C318.9 814.1 320.2 816.2 321.0 818.0C321.8 819.8 322.2 821.1 322.8 822.8C323.4 824.5 324.2 826.3 324.6 828.0C325.0 829.7 325.3 831.0 325.4 833.0C325.5 835.0 325.3 837.7 325.0 840.0C324.7 842.3 324.1 843.4 323.4 846.7C322.7 850.0 321.9 855.5 321.0 860.0C320.1 864.5 318.4 869.9 318.0 873.4C317.6 876.9 318.3 878.3 318.5 881.0C318.7 883.7 319.5 885.9 319.4 889.4C319.3 892.9 318.6 898.0 318.0 902.0C317.4 906.0 316.7 909.7 316.0 913.5C315.3 917.3 314.6 921.7 314.0 925.0C313.4 928.3 312.8 931.3 312.7 933.5C312.6 935.7 312.6 936.7 313.5 938.0C314.4 939.3 317.6 940.5 318.3 941.3C319.0 942.1 319.4 942.7 317.5 943.0C315.6 943.3 308.7 943.8 307.0 943.0C305.3 942.2 307.1 939.6 307.2 938.0C307.3 936.4 307.6 936.8 307.4 933.5C307.2 930.2 306.4 923.6 306.0 918.0C305.6 912.4 304.7 904.7 304.7 900.0C304.7 895.3 305.7 892.9 306.0 890.0C306.3 887.1 306.8 886.1 306.7 882.8C306.6 879.5 306.1 874.2 305.5 870.0C304.9 865.8 303.9 861.4 303.4 857.4C302.8 853.4 302.5 849.1 302.2 846.0C301.9 842.9 301.8 838.7 301.4 838.7C301.0 838.7 300.3 842.9 299.8 846.0C299.3 849.1 299.2 853.4 298.6 857.4C298.1 861.4 297.1 865.8 296.5 870.0C295.9 874.2 295.4 879.5 295.3 882.8C295.2 886.1 295.7 887.1 296.0 890.0C296.3 892.9 297.3 895.3 297.3 900.0C297.3 904.7 296.4 912.4 296.0 918.0C295.6 923.6 294.8 930.2 294.6 933.5C294.4 936.8 294.7 936.4 294.8 938.0C294.9 939.6 296.7 942.2 295.0 943.0C293.3 943.8 286.4 943.3 284.5 943.0C282.6 942.7 283.0 942.1 283.7 941.3C284.4 940.5 287.6 939.3 288.5 938.0C289.4 936.7 289.4 935.7 289.3 933.5C289.2 931.3 288.6 928.3 288.0 925.0C287.4 921.7 286.7 917.3 286.0 913.5C285.3 909.7 284.6 906.0 284.0 902.0C283.4 898.0 282.7 892.9 282.6 889.4C282.5 885.9 283.3 883.7 283.5 881.0C283.7 878.3 284.4 876.9 284.0 873.4C283.6 869.9 281.9 864.5 281.0 860.0C280.1 855.5 279.3 850.0 278.6 846.7C277.9 843.4 277.3 842.3 277.0 840.0C276.7 837.7 276.5 835.0 276.6 833.0C276.7 831.0 277.0 829.7 277.4 828.0C277.8 826.3 278.6 824.5 279.2 822.8C279.8 821.1 280.2 819.8 281.0 818.0C281.8 816.2 283.1 814.1 284.0 812.0C284.9 809.9 286.0 807.3 286.6 805.5C287.2 803.7 287.5 802.4 287.7 801.0C287.9 799.6 288.2 798.7 288.0 797.0C287.8 795.3 287.1 793.3 286.5 791.0C285.9 788.7 284.9 784.8 284.4 783.0C283.9 781.2 283.8 779.3 283.4 780.0C283.0 780.7 282.4 784.3 282.0 787.0C281.6 789.7 281.7 791.8 281.0 796.0C280.3 800.2 278.9 807.7 277.8 812.0C276.7 816.3 274.9 819.5 274.4 822.0C273.9 824.5 274.5 824.6 274.7 826.7C274.9 828.8 275.7 832.5 275.7 834.7C275.7 836.9 275.1 838.5 274.7 840.0C274.3 841.5 273.6 842.6 273.5 844.0C273.4 845.4 274.2 847.6 274.0 848.5C273.8 849.4 273.2 849.8 272.5 849.6C271.8 849.4 270.7 848.5 269.8 847.4C268.9 846.2 267.8 844.6 267.2 842.7C266.6 840.8 266.2 838.3 266.0 836.0C265.8 833.7 265.8 831.3 266.0 829.0C266.2 826.7 266.7 824.6 267.0 822.0C267.3 819.4 267.6 816.5 268.0 813.5C268.4 810.5 269.0 807.3 269.5 804.0C270.0 800.7 270.6 797.5 271.2 793.5C271.8 789.5 272.6 783.8 273.0 780.0C273.4 776.2 273.1 773.8 273.3 771.0C273.5 768.2 273.5 765.5 274.0 763.5C274.5 761.5 275.2 760.2 276.2 759.0C277.2 757.8 278.4 757.3 280.0 756.5C281.6 755.7 284.0 754.8 286.0 754.0C288.0 753.2 290.5 752.6 292.0 751.8C293.5 751.0 294.3 750.0 294.8 749.0C295.3 748.0 295.3 747.1 295.2 746.0C295.1 744.9 294.6 743.8 294.0 742.5C293.4 741.2 292.3 739.5 291.5 738.0C290.7 736.5 289.7 734.9 289.0 733.5C288.3 732.1 287.4 730.7 287.4 729.6C287.4 728.5 288.6 728.1 289.0 727.0C289.4 725.9 289.2 724.4 289.7 723.0C290.1 721.6 290.6 719.9 291.7 718.6C292.8 717.3 294.4 716.0 296.0 715.3C297.6 714.6 299.3 714.2 301.0 714.2Z" fill="#1f4275"/>
<ellipse cx="301" cy="712.4" rx="3.9" ry="3.9" fill="#1f4275"/>
<g fill="none" stroke="#7cc864" stroke-linecap="round" stroke-linejoin="round">
<g stroke-width="1.9">
<path d="M80.2 748.2Q92.7 754 105.3 748.2"/>
<path d="M70.9 780H112.8"/>
<path d="M73 810.8H112"/>
<path d="M292.6 751.6Q301 755.6 309.6 751.6"/>
<path d="M284.4 780H318.4"/>
<path d="M287.6 805.5H315.2"/>
<path d="M280.2 823.5H322.6"/>
</g>
<g stroke-width="1.4">
<path d="M105.2 747.6L120.8 716.3H134"/>
<path d="M109.4 779.6L122 765H134"/>
<path d="M93.4 812.6L98 818.6H134"/>
<path d="M90 892.8L96.7 903.9H134"/>
<path d="M316.7 822L328.8 808.8H340"/>
<path d="M83.4 934.8H92.7M290.7 934.8H299.4"/>
</g>
<g stroke-width="1.1">
<path d="M92.5 839L88 934.8"/>
<path d="M301.4 839L296 934.8"/>
</g>
</g>
<g fill="#7cc864"><circle cx="105.2" cy="747.8" r="1.5"/><circle cx="109.6" cy="779.4" r="1.5"/><circle cx="93.4" cy="812.4" r="1.5"/><circle cx="90" cy="892.8" r="1.5"/><circle cx="316.9" cy="821.8" r="1.5"/></g>

</svg>
<div class="t sw2" style="top:101.90px;font-size:9.1px;font-weight:700;color:#fff;letter-spacing:0.013px;left:60.60px;">SHORTS, TROUSERS, COVERALL &amp; OVERALLS</div>
<div class="t sg" style="top:120.57px;font-size:8.6px;font-weight:700;color:#1c5a2c;letter-spacing:0.173px;left:60.60px;">REGULAR SIZES</div>
<div class="t sw2" style="top:120.15px;font-size:9.1px;font-weight:700;color:#fff;letter-spacing:0.850px;left:101.47px;width:200px;text-align:center;">72R</div>
<div class="t sw2" style="top:120.15px;font-size:9.1px;font-weight:700;color:#fff;letter-spacing:0.850px;left:145.22px;width:200px;text-align:center;">77R</div>
<div class="t sw2" style="top:120.15px;font-size:9.1px;font-weight:700;color:#fff;letter-spacing:0.850px;left:188.98px;width:200px;text-align:center;">82R</div>
<div class="t sw2" style="top:120.15px;font-size:9.1px;font-weight:700;color:#fff;letter-spacing:0.850px;left:232.73px;width:200px;text-align:center;">87R</div>
<div class="t sw2" style="top:120.15px;font-size:9.1px;font-weight:700;color:#fff;letter-spacing:0.850px;left:276.48px;width:200px;text-align:center;">92R</div>
<div class="t sw2" style="top:120.15px;font-size:9.1px;font-weight:700;color:#fff;letter-spacing:0.850px;left:320.23px;width:200px;text-align:center;">97R</div>
<div class="t sw2" style="top:120.15px;font-size:9.1px;font-weight:700;color:#fff;letter-spacing:0.850px;left:363.98px;width:200px;text-align:center;">102R</div>
<div class="t sw2" style="top:120.15px;font-size:9.1px;font-weight:700;color:#fff;letter-spacing:0.850px;left:407.73px;width:200px;text-align:center;">107R</div>
<div class="t sw2" style="top:120.15px;font-size:9.1px;font-weight:700;color:#fff;letter-spacing:0.850px;left:451.48px;width:200px;text-align:center;">112R</div>
<div class="t sw2" style="top:120.15px;font-size:9.1px;font-weight:700;color:#fff;letter-spacing:0.850px;left:495.23px;width:200px;text-align:center;">117R</div>
<div class="t s" style="top:138.42px;font-size:8.6px;letter-spacing:-0.025px;left:60.60px;">IMPERIAL SIZE</div>
<div class="t s" style="top:138.08px;font-size:9.0px;letter-spacing:0.150px;left:101.47px;width:200px;text-align:center;">2</div>
<div class="t s" style="top:138.08px;font-size:9.0px;letter-spacing:0.150px;left:145.22px;width:200px;text-align:center;">3</div>
<div class="t s" style="top:138.08px;font-size:9.0px;letter-spacing:0.150px;left:188.98px;width:200px;text-align:center;">4</div>
<div class="t s" style="top:138.08px;font-size:9.0px;letter-spacing:0.150px;left:232.73px;width:200px;text-align:center;">5</div>
<div class="t s" style="top:138.08px;font-size:9.0px;letter-spacing:0.150px;left:276.48px;width:200px;text-align:center;">6</div>
<div class="t s" style="top:138.08px;font-size:9.0px;letter-spacing:0.150px;left:320.23px;width:200px;text-align:center;">7</div>
<div class="t s" style="top:138.08px;font-size:9.0px;letter-spacing:0.150px;left:363.98px;width:200px;text-align:center;">8</div>
<div class="t s" style="top:138.08px;font-size:9.0px;letter-spacing:0.150px;left:407.73px;width:200px;text-align:center;">9</div>
<div class="t s" style="top:138.08px;font-size:9.0px;letter-spacing:0.150px;left:451.48px;width:200px;text-align:center;">10</div>
<div class="t s" style="top:138.08px;font-size:9.0px;letter-spacing:0.150px;left:495.23px;width:200px;text-align:center;">11</div>
<div class="t s" style="top:156.27px;font-size:8.6px;letter-spacing:0.013px;left:60.60px;">TO FIT WAIST (cm)</div>
<div class="t s" style="top:155.93px;font-size:9.0px;letter-spacing:0.150px;left:101.47px;width:200px;text-align:center;">72</div>
<div class="t s" style="top:155.93px;font-size:9.0px;letter-spacing:0.150px;left:145.22px;width:200px;text-align:center;">77</div>
<div class="t s" style="top:155.93px;font-size:9.0px;letter-spacing:0.150px;left:188.98px;width:200px;text-align:center;">82</div>
<div class="t s" style="top:155.93px;font-size:9.0px;letter-spacing:0.150px;left:232.73px;width:200px;text-align:center;">87</div>
<div class="t s" style="top:155.93px;font-size:9.0px;letter-spacing:0.150px;left:276.48px;width:200px;text-align:center;">92</div>
<div class="t s" style="top:155.93px;font-size:9.0px;letter-spacing:0.150px;left:320.23px;width:200px;text-align:center;">97</div>
<div class="t s" style="top:155.93px;font-size:9.0px;letter-spacing:0.150px;left:363.98px;width:200px;text-align:center;">102</div>
<div class="t s" style="top:155.93px;font-size:9.0px;letter-spacing:0.150px;left:407.73px;width:200px;text-align:center;">107</div>
<div class="t s" style="top:155.93px;font-size:9.0px;letter-spacing:0.150px;left:451.48px;width:200px;text-align:center;">112</div>
<div class="t s" style="top:155.93px;font-size:9.0px;letter-spacing:0.150px;left:495.23px;width:200px;text-align:center;">117</div>
<div class="t s" style="top:174.12px;font-size:8.6px;letter-spacing:0.076px;left:60.60px;">TO FIT WAIST (inches)</div>
<div class="t s" style="top:173.78px;font-size:9.0px;letter-spacing:0.150px;left:101.47px;width:200px;text-align:center;">28</div>
<div class="t s" style="top:173.78px;font-size:9.0px;letter-spacing:0.150px;left:145.22px;width:200px;text-align:center;">30</div>
<div class="t s" style="top:173.78px;font-size:9.0px;letter-spacing:0.150px;left:188.98px;width:200px;text-align:center;">32</div>
<div class="t s" style="top:173.78px;font-size:9.0px;letter-spacing:0.150px;left:232.73px;width:200px;text-align:center;">34</div>
<div class="t s" style="top:173.78px;font-size:9.0px;letter-spacing:0.150px;left:276.48px;width:200px;text-align:center;">36</div>
<div class="t s" style="top:173.78px;font-size:9.0px;letter-spacing:0.150px;left:320.23px;width:200px;text-align:center;">38</div>
<div class="t s" style="top:173.78px;font-size:9.0px;letter-spacing:0.150px;left:363.98px;width:200px;text-align:center;">40</div>
<div class="t s" style="top:173.78px;font-size:9.0px;letter-spacing:0.150px;left:407.73px;width:200px;text-align:center;">42</div>
<div class="t s" style="top:173.78px;font-size:9.0px;letter-spacing:0.150px;left:451.48px;width:200px;text-align:center;">44</div>
<div class="t s" style="top:173.78px;font-size:9.0px;letter-spacing:0.150px;left:495.23px;width:200px;text-align:center;">46</div>
<div class="t s" style="top:191.97px;font-size:8.6px;letter-spacing:-0.127px;left:60.60px;">TO FIT CHEST (cm)</div>
<div class="t s" style="top:191.63px;font-size:9.0px;letter-spacing:0.150px;left:101.47px;width:200px;text-align:center;">82</div>
<div class="t s" style="top:191.63px;font-size:9.0px;letter-spacing:0.150px;left:145.22px;width:200px;text-align:center;">87</div>
<div class="t s" style="top:191.63px;font-size:9.0px;letter-spacing:0.150px;left:188.98px;width:200px;text-align:center;">92</div>
<div class="t s" style="top:191.63px;font-size:9.0px;letter-spacing:0.150px;left:232.73px;width:200px;text-align:center;">97</div>
<div class="t s" style="top:191.63px;font-size:9.0px;letter-spacing:0.150px;left:276.48px;width:200px;text-align:center;">102</div>
<div class="t s" style="top:191.63px;font-size:9.0px;letter-spacing:0.150px;left:320.23px;width:200px;text-align:center;">107</div>
<div class="t s" style="top:191.63px;font-size:9.0px;letter-spacing:0.150px;left:363.98px;width:200px;text-align:center;">112</div>
<div class="t s" style="top:191.63px;font-size:9.0px;letter-spacing:0.150px;left:407.73px;width:200px;text-align:center;">117</div>
<div class="t s" style="top:191.63px;font-size:9.0px;letter-spacing:0.150px;left:451.48px;width:200px;text-align:center;">122</div>
<div class="t s" style="top:191.63px;font-size:9.0px;letter-spacing:0.150px;left:495.23px;width:200px;text-align:center;">127</div>
<div class="t s" style="top:209.82px;font-size:8.6px;letter-spacing:-0.079px;left:60.60px;">TO FIT INLEG (cm)</div>
<div class="t s" style="top:209.48px;font-size:9.0px;letter-spacing:0.150px;left:101.47px;width:200px;text-align:center;">71</div>
<div class="t s" style="top:209.48px;font-size:9.0px;letter-spacing:0.150px;left:145.22px;width:200px;text-align:center;">74</div>
<div class="t s" style="top:209.48px;font-size:9.0px;letter-spacing:0.150px;left:188.98px;width:200px;text-align:center;">77</div>
<div class="t s" style="top:209.48px;font-size:9.0px;letter-spacing:0.150px;left:232.73px;width:200px;text-align:center;">79</div>
<div class="t s" style="top:209.48px;font-size:9.0px;letter-spacing:0.150px;left:276.48px;width:200px;text-align:center;">82</div>
<div class="t s" style="top:209.48px;font-size:9.0px;letter-spacing:0.150px;left:320.23px;width:200px;text-align:center;">83</div>
<div class="t s" style="top:209.48px;font-size:9.0px;letter-spacing:0.150px;left:363.98px;width:200px;text-align:center;">84</div>
<div class="t s" style="top:209.48px;font-size:9.0px;letter-spacing:0.150px;left:407.73px;width:200px;text-align:center;">87</div>
<div class="t s" style="top:209.48px;font-size:9.0px;letter-spacing:0.150px;left:451.48px;width:200px;text-align:center;">87</div>
<div class="t s" style="top:209.48px;font-size:9.0px;letter-spacing:0.150px;left:495.23px;width:200px;text-align:center;">87</div>
<div class="t sg" style="top:227.67px;font-size:8.6px;font-weight:700;color:#1c5a2c;letter-spacing:0.134px;left:60.60px;">STOUTS SIZES</div>
<div class="t sw2" style="top:227.25px;font-size:9.1px;font-weight:700;color:#fff;letter-spacing:0.850px;left:101.47px;width:200px;text-align:center;">82S</div>
<div class="t sw2" style="top:227.25px;font-size:9.1px;font-weight:700;color:#fff;letter-spacing:0.850px;left:145.22px;width:200px;text-align:center;">87S</div>
<div class="t sw2" style="top:227.25px;font-size:9.1px;font-weight:700;color:#fff;letter-spacing:0.850px;left:188.98px;width:200px;text-align:center;">92S</div>
<div class="t sw2" style="top:227.25px;font-size:9.1px;font-weight:700;color:#fff;letter-spacing:0.850px;left:232.73px;width:200px;text-align:center;">97S</div>
<div class="t sw2" style="top:227.25px;font-size:9.1px;font-weight:700;color:#fff;letter-spacing:0.850px;left:276.48px;width:200px;text-align:center;">102S</div>
<div class="t sw2" style="top:227.25px;font-size:9.1px;font-weight:700;color:#fff;letter-spacing:0.850px;left:320.23px;width:200px;text-align:center;">107S</div>
<div class="t sw2" style="top:227.25px;font-size:9.1px;font-weight:700;color:#fff;letter-spacing:0.850px;left:363.98px;width:200px;text-align:center;">112S</div>
<div class="t sw2" style="top:227.25px;font-size:9.1px;font-weight:700;color:#fff;letter-spacing:0.850px;left:407.73px;width:200px;text-align:center;">117S</div>
<div class="t sw2" style="top:227.25px;font-size:9.1px;font-weight:700;color:#fff;letter-spacing:0.850px;left:451.48px;width:200px;text-align:center;">122S</div>
<div class="t sw2" style="top:227.25px;font-size:9.1px;font-weight:700;color:#fff;letter-spacing:0.850px;left:495.23px;width:200px;text-align:center;">127S</div>
<div class="t sw2" style="top:227.25px;font-size:9.1px;font-weight:700;color:#fff;letter-spacing:0.850px;left:538.98px;width:200px;text-align:center;">132S</div>
<div class="t s" style="top:245.52px;font-size:8.6px;letter-spacing:-0.025px;left:60.60px;">IMPERIAL SIZE</div>
<div class="t s" style="top:245.18px;font-size:9.0px;letter-spacing:0.150px;left:101.47px;width:200px;text-align:center;">21/4</div>
<div class="t s" style="top:245.18px;font-size:9.0px;letter-spacing:0.150px;left:145.22px;width:200px;text-align:center;">31/4</div>
<div class="t s" style="top:245.18px;font-size:9.0px;letter-spacing:0.150px;left:188.98px;width:200px;text-align:center;">41/4</div>
<div class="t s" style="top:245.18px;font-size:9.0px;letter-spacing:0.150px;left:232.73px;width:200px;text-align:center;">51/4</div>
<div class="t s" style="top:245.18px;font-size:9.0px;letter-spacing:0.150px;left:276.48px;width:200px;text-align:center;">61/4</div>
<div class="t s" style="top:245.18px;font-size:9.0px;letter-spacing:0.150px;left:320.23px;width:200px;text-align:center;">71/4</div>
<div class="t s" style="top:245.18px;font-size:9.0px;letter-spacing:0.150px;left:363.98px;width:200px;text-align:center;">81/4</div>
<div class="t s" style="top:245.18px;font-size:9.0px;letter-spacing:0.150px;left:407.73px;width:200px;text-align:center;">91/4</div>
<div class="t s" style="top:245.18px;font-size:9.0px;letter-spacing:0.150px;left:451.48px;width:200px;text-align:center;">101/4</div>
<div class="t s" style="top:245.18px;font-size:9.0px;letter-spacing:0.150px;left:495.23px;width:200px;text-align:center;">111/4</div>
<div class="t s" style="top:245.18px;font-size:9.0px;letter-spacing:0.150px;left:538.98px;width:200px;text-align:center;">121/4</div>
<div class="t s" style="top:263.37px;font-size:8.6px;letter-spacing:0.013px;left:60.60px;">TO FIT WAIST (cm)</div>
<div class="t s" style="top:263.03px;font-size:9.0px;letter-spacing:0.150px;left:101.47px;width:200px;text-align:center;">82</div>
<div class="t s" style="top:263.03px;font-size:9.0px;letter-spacing:0.150px;left:145.22px;width:200px;text-align:center;">87</div>
<div class="t s" style="top:263.03px;font-size:9.0px;letter-spacing:0.150px;left:188.98px;width:200px;text-align:center;">92</div>
<div class="t s" style="top:263.03px;font-size:9.0px;letter-spacing:0.150px;left:232.73px;width:200px;text-align:center;">97</div>
<div class="t s" style="top:263.03px;font-size:9.0px;letter-spacing:0.150px;left:276.48px;width:200px;text-align:center;">102</div>
<div class="t s" style="top:263.03px;font-size:9.0px;letter-spacing:0.150px;left:320.23px;width:200px;text-align:center;">107</div>
<div class="t s" style="top:263.03px;font-size:9.0px;letter-spacing:0.150px;left:363.98px;width:200px;text-align:center;">112</div>
<div class="t s" style="top:263.03px;font-size:9.0px;letter-spacing:0.150px;left:407.73px;width:200px;text-align:center;">117</div>
<div class="t s" style="top:263.03px;font-size:9.0px;letter-spacing:0.150px;left:451.48px;width:200px;text-align:center;">122</div>
<div class="t s" style="top:263.03px;font-size:9.0px;letter-spacing:0.150px;left:495.23px;width:200px;text-align:center;">127</div>
<div class="t s" style="top:263.03px;font-size:9.0px;letter-spacing:0.150px;left:538.98px;width:200px;text-align:center;">132</div>
<div class="t s" style="top:281.22px;font-size:8.6px;letter-spacing:0.076px;left:60.60px;">TO FIT WAIST (inches)</div>
<div class="t s" style="top:280.88px;font-size:9.0px;letter-spacing:0.150px;left:101.47px;width:200px;text-align:center;">32</div>
<div class="t s" style="top:280.88px;font-size:9.0px;letter-spacing:0.150px;left:145.22px;width:200px;text-align:center;">34</div>
<div class="t s" style="top:280.88px;font-size:9.0px;letter-spacing:0.150px;left:188.98px;width:200px;text-align:center;">36</div>
<div class="t s" style="top:280.88px;font-size:9.0px;letter-spacing:0.150px;left:232.73px;width:200px;text-align:center;">38</div>
<div class="t s" style="top:280.88px;font-size:9.0px;letter-spacing:0.150px;left:276.48px;width:200px;text-align:center;">40</div>
<div class="t s" style="top:280.88px;font-size:9.0px;letter-spacing:0.150px;left:320.23px;width:200px;text-align:center;">42</div>
<div class="t s" style="top:280.88px;font-size:9.0px;letter-spacing:0.150px;left:363.98px;width:200px;text-align:center;">44</div>
<div class="t s" style="top:280.88px;font-size:9.0px;letter-spacing:0.150px;left:407.73px;width:200px;text-align:center;">46</div>
<div class="t s" style="top:280.88px;font-size:9.0px;letter-spacing:0.150px;left:451.48px;width:200px;text-align:center;">48</div>
<div class="t s" style="top:280.88px;font-size:9.0px;letter-spacing:0.150px;left:495.23px;width:200px;text-align:center;">50</div>
<div class="t s" style="top:280.88px;font-size:9.0px;letter-spacing:0.150px;left:538.98px;width:200px;text-align:center;">52</div>
<div class="t s" style="top:299.07px;font-size:8.6px;letter-spacing:-0.127px;left:60.60px;">TO FIT CHEST (cm)</div>
<div class="t s" style="top:298.73px;font-size:9.0px;letter-spacing:0.150px;left:101.47px;width:200px;text-align:center;">92</div>
<div class="t s" style="top:298.73px;font-size:9.0px;letter-spacing:0.150px;left:145.22px;width:200px;text-align:center;">97</div>
<div class="t s" style="top:298.73px;font-size:9.0px;letter-spacing:0.150px;left:188.98px;width:200px;text-align:center;">102</div>
<div class="t s" style="top:298.73px;font-size:9.0px;letter-spacing:0.150px;left:232.73px;width:200px;text-align:center;">107</div>
<div class="t s" style="top:298.73px;font-size:9.0px;letter-spacing:0.150px;left:276.48px;width:200px;text-align:center;">112</div>
<div class="t s" style="top:298.73px;font-size:9.0px;letter-spacing:0.150px;left:320.23px;width:200px;text-align:center;">117</div>
<div class="t s" style="top:298.73px;font-size:9.0px;letter-spacing:0.150px;left:363.98px;width:200px;text-align:center;">122</div>
<div class="t s" style="top:298.73px;font-size:9.0px;letter-spacing:0.150px;left:407.73px;width:200px;text-align:center;">127</div>
<div class="t s" style="top:298.73px;font-size:9.0px;letter-spacing:0.150px;left:451.48px;width:200px;text-align:center;">132</div>
<div class="t s" style="top:298.73px;font-size:9.0px;letter-spacing:0.150px;left:495.23px;width:200px;text-align:center;">137</div>
<div class="t s" style="top:298.73px;font-size:9.0px;letter-spacing:0.150px;left:538.98px;width:200px;text-align:center;">142</div>
<div class="t s" style="top:316.92px;font-size:8.6px;letter-spacing:-0.079px;left:60.60px;">TO FIT INLEG (cm)</div>
<div class="t s" style="top:316.58px;font-size:9.0px;letter-spacing:0.150px;left:145.22px;width:200px;text-align:center;">69</div>
<div class="t s" style="top:316.58px;font-size:9.0px;letter-spacing:0.150px;left:188.98px;width:200px;text-align:center;">71</div>
<div class="t s" style="top:316.58px;font-size:9.0px;letter-spacing:0.150px;left:232.73px;width:200px;text-align:center;">74</div>
<div class="t s" style="top:316.58px;font-size:9.0px;letter-spacing:0.150px;left:276.48px;width:200px;text-align:center;">76</div>
<div class="t s" style="top:316.58px;font-size:9.0px;letter-spacing:0.150px;left:320.23px;width:200px;text-align:center;">79</div>
<div class="t s" style="top:316.58px;font-size:9.0px;letter-spacing:0.150px;left:363.98px;width:200px;text-align:center;">79</div>
<div class="t s" style="top:316.58px;font-size:9.0px;letter-spacing:0.150px;left:407.73px;width:200px;text-align:center;">81</div>
<div class="t s" style="top:316.58px;font-size:9.0px;letter-spacing:0.150px;left:451.48px;width:200px;text-align:center;">81</div>
<div class="t s" style="top:316.58px;font-size:9.0px;letter-spacing:0.150px;left:495.23px;width:200px;text-align:center;">81</div>
<div class="t s" style="top:316.58px;font-size:9.0px;letter-spacing:0.150px;left:538.98px;width:200px;text-align:center;">81</div>
<div class="t sg" style="top:334.77px;font-size:8.6px;font-weight:700;color:#1c5a2c;letter-spacing:0.122px;left:60.60px;">LONGS SIZES</div>
<div class="t sw2" style="top:334.35px;font-size:9.1px;font-weight:700;color:#fff;letter-spacing:0.850px;left:101.47px;width:200px;text-align:center;">74L</div>
<div class="t sw2" style="top:334.35px;font-size:9.1px;font-weight:700;color:#fff;letter-spacing:0.850px;left:145.22px;width:200px;text-align:center;">79L</div>
<div class="t sw2" style="top:334.35px;font-size:9.1px;font-weight:700;color:#fff;letter-spacing:0.850px;left:188.98px;width:200px;text-align:center;">84L</div>
<div class="t sw2" style="top:334.35px;font-size:9.1px;font-weight:700;color:#fff;letter-spacing:0.850px;left:232.73px;width:200px;text-align:center;">89L</div>
<div class="t sw2" style="top:334.35px;font-size:9.1px;font-weight:700;color:#fff;letter-spacing:0.850px;left:276.48px;width:200px;text-align:center;">94L</div>
<div class="t s" style="top:352.62px;font-size:8.6px;letter-spacing:-0.025px;left:60.60px;">IMPERIAL SIZE</div>
<div class="t s" style="top:352.28px;font-size:9.0px;letter-spacing:0.150px;left:101.47px;width:200px;text-align:center;">31/2</div>
<div class="t s" style="top:352.28px;font-size:9.0px;letter-spacing:0.150px;left:145.22px;width:200px;text-align:center;">41/2</div>
<div class="t s" style="top:352.28px;font-size:9.0px;letter-spacing:0.150px;left:188.98px;width:200px;text-align:center;">51/2</div>
<div class="t s" style="top:352.28px;font-size:9.0px;letter-spacing:0.150px;left:232.73px;width:200px;text-align:center;">61/2</div>
<div class="t s" style="top:352.28px;font-size:9.0px;letter-spacing:0.150px;left:276.48px;width:200px;text-align:center;">71/2</div>
<div class="t s" style="top:370.47px;font-size:8.6px;letter-spacing:0.013px;left:60.60px;">TO FIT WAIST (cm)</div>
<div class="t s" style="top:370.13px;font-size:9.0px;letter-spacing:0.150px;left:101.47px;width:200px;text-align:center;">74</div>
<div class="t s" style="top:370.13px;font-size:9.0px;letter-spacing:0.150px;left:145.22px;width:200px;text-align:center;">79</div>
<div class="t s" style="top:370.13px;font-size:9.0px;letter-spacing:0.150px;left:188.98px;width:200px;text-align:center;">84</div>
<div class="t s" style="top:370.13px;font-size:9.0px;letter-spacing:0.150px;left:232.73px;width:200px;text-align:center;">89</div>
<div class="t s" style="top:370.13px;font-size:9.0px;letter-spacing:0.150px;left:276.48px;width:200px;text-align:center;">94</div>
<div class="t s" style="top:388.32px;font-size:8.6px;letter-spacing:0.076px;left:60.60px;">TO FIT WAIST (inches)</div>
<div class="t s" style="top:387.98px;font-size:9.0px;letter-spacing:0.150px;left:101.47px;width:200px;text-align:center;">29</div>
<div class="t s" style="top:387.98px;font-size:9.0px;letter-spacing:0.150px;left:145.22px;width:200px;text-align:center;">31</div>
<div class="t s" style="top:387.98px;font-size:9.0px;letter-spacing:0.150px;left:188.98px;width:200px;text-align:center;">33</div>
<div class="t s" style="top:387.98px;font-size:9.0px;letter-spacing:0.150px;left:232.73px;width:200px;text-align:center;">35</div>
<div class="t s" style="top:387.98px;font-size:9.0px;letter-spacing:0.150px;left:276.48px;width:200px;text-align:center;">37</div>
<div class="t s" style="top:406.17px;font-size:8.6px;letter-spacing:-0.127px;left:60.60px;">TO FIT CHEST (cm)</div>
<div class="t s" style="top:405.83px;font-size:9.0px;letter-spacing:0.150px;left:101.47px;width:200px;text-align:center;">87</div>
<div class="t s" style="top:405.83px;font-size:9.0px;letter-spacing:0.150px;left:145.22px;width:200px;text-align:center;">92</div>
<div class="t s" style="top:405.83px;font-size:9.0px;letter-spacing:0.150px;left:188.98px;width:200px;text-align:center;">97</div>
<div class="t s" style="top:405.83px;font-size:9.0px;letter-spacing:0.150px;left:232.73px;width:200px;text-align:center;">102</div>
<div class="t s" style="top:405.83px;font-size:9.0px;letter-spacing:0.150px;left:276.48px;width:200px;text-align:center;">107</div>
<div class="t s" style="top:424.02px;font-size:8.6px;letter-spacing:-0.079px;left:60.60px;">TO FIT INLEG (cm)</div>
<div class="t s" style="top:423.68px;font-size:9.0px;letter-spacing:0.150px;left:101.47px;width:200px;text-align:center;">77</div>
<div class="t s" style="top:423.68px;font-size:9.0px;letter-spacing:0.150px;left:145.22px;width:200px;text-align:center;">80</div>
<div class="t s" style="top:423.68px;font-size:9.0px;letter-spacing:0.150px;left:188.98px;width:200px;text-align:center;">83</div>
<div class="t s" style="top:423.68px;font-size:9.0px;letter-spacing:0.150px;left:232.73px;width:200px;text-align:center;">85</div>
<div class="t s" style="top:423.68px;font-size:9.0px;letter-spacing:0.150px;left:276.48px;width:200px;text-align:center;">88</div>
<div class="t sw2" style="top:441.05px;font-size:9.1px;font-weight:700;color:#fff;letter-spacing:0.141px;left:60.60px;">SHIRTS, KNITWEAR, JACKETS</div>
<div class="t sg" style="top:459.72px;font-size:8.6px;font-weight:700;color:#1c5a2c;letter-spacing:0.030px;left:60.60px;">SIZE</div>
<div class="t sw2" style="top:459.30px;font-size:9.1px;font-weight:700;color:#fff;letter-spacing:0.850px;left:101.47px;width:200px;text-align:center;">2XS</div>
<div class="t sw2" style="top:459.30px;font-size:9.1px;font-weight:700;color:#fff;letter-spacing:0.850px;left:145.22px;width:200px;text-align:center;">XS</div>
<div class="t sw2" style="top:459.30px;font-size:9.1px;font-weight:700;color:#fff;letter-spacing:0.850px;left:188.98px;width:200px;text-align:center;">S</div>
<div class="t sw2" style="top:459.30px;font-size:9.1px;font-weight:700;color:#fff;letter-spacing:0.850px;left:232.73px;width:200px;text-align:center;">M</div>
<div class="t sw2" style="top:459.30px;font-size:9.1px;font-weight:700;color:#fff;letter-spacing:0.850px;left:276.48px;width:200px;text-align:center;">L</div>
<div class="t sw2" style="top:459.30px;font-size:9.1px;font-weight:700;color:#fff;letter-spacing:0.850px;left:320.23px;width:200px;text-align:center;">XL</div>
<div class="t sw2" style="top:459.30px;font-size:9.1px;font-weight:700;color:#fff;letter-spacing:0.850px;left:363.98px;width:200px;text-align:center;">2XL</div>
<div class="t sw2" style="top:459.30px;font-size:9.1px;font-weight:700;color:#fff;letter-spacing:0.850px;left:407.73px;width:200px;text-align:center;">3XL</div>
<div class="t sw2" style="top:459.30px;font-size:9.1px;font-weight:700;color:#fff;letter-spacing:0.850px;left:451.48px;width:200px;text-align:center;">4XL</div>
<div class="t sw2" style="top:459.30px;font-size:9.1px;font-weight:700;color:#fff;letter-spacing:0.850px;left:495.23px;width:200px;text-align:center;">5XL</div>
<div class="t sw2" style="top:459.30px;font-size:9.1px;font-weight:700;color:#fff;letter-spacing:0.850px;left:538.98px;width:200px;text-align:center;">6XL</div>
<div class="t s" style="top:477.57px;font-size:8.6px;letter-spacing:-0.224px;left:60.60px;">WOMEN&#8217;S CONVERSION</div>
<div class="t s" style="top:477.23px;font-size:9.0px;letter-spacing:0.150px;left:101.47px;width:200px;text-align:center;">6</div>
<div class="t s" style="top:477.23px;font-size:9.0px;letter-spacing:0.150px;left:145.22px;width:200px;text-align:center;">8</div>
<div class="t s" style="top:477.23px;font-size:9.0px;letter-spacing:0.150px;left:188.98px;width:200px;text-align:center;">10</div>
<div class="t s" style="top:477.23px;font-size:9.0px;letter-spacing:0.150px;left:232.73px;width:200px;text-align:center;">12</div>
<div class="t s" style="top:477.23px;font-size:9.0px;letter-spacing:0.150px;left:276.48px;width:200px;text-align:center;">14</div>
<div class="t s" style="top:477.23px;font-size:9.0px;letter-spacing:0.150px;left:320.23px;width:200px;text-align:center;">16</div>
<div class="t s" style="top:477.23px;font-size:9.0px;letter-spacing:0.150px;left:363.98px;width:200px;text-align:center;">18</div>
<div class="t s" style="top:477.23px;font-size:9.0px;letter-spacing:0.150px;left:407.73px;width:200px;text-align:center;">20</div>
<div class="t s" style="top:477.23px;font-size:9.0px;letter-spacing:0.150px;left:451.48px;width:200px;text-align:center;">22</div>
<div class="t s" style="top:477.23px;font-size:9.0px;letter-spacing:0.150px;left:495.23px;width:200px;text-align:center;">24</div>
<div class="t s" style="top:495.42px;font-size:8.6px;letter-spacing:-0.122px;left:60.60px;">TO FIT NECK (cm)</div>
<div class="t s" style="top:495.08px;font-size:9.0px;letter-spacing:0.150px;left:101.47px;width:200px;text-align:center;">32/33</div>
<div class="t s" style="top:495.08px;font-size:9.0px;letter-spacing:0.150px;left:145.22px;width:200px;text-align:center;">34/35</div>
<div class="t s" style="top:495.08px;font-size:9.0px;letter-spacing:0.150px;left:188.98px;width:200px;text-align:center;">36/37</div>
<div class="t s" style="top:495.08px;font-size:9.0px;letter-spacing:0.150px;left:232.73px;width:200px;text-align:center;">38/39</div>
<div class="t s" style="top:495.08px;font-size:9.0px;letter-spacing:0.150px;left:276.48px;width:200px;text-align:center;">41/42</div>
<div class="t s" style="top:495.08px;font-size:9.0px;letter-spacing:0.150px;left:320.23px;width:200px;text-align:center;">43/44</div>
<div class="t s" style="top:495.08px;font-size:9.0px;letter-spacing:0.150px;left:363.98px;width:200px;text-align:center;">45/46</div>
<div class="t s" style="top:495.08px;font-size:9.0px;letter-spacing:0.150px;left:407.73px;width:200px;text-align:center;">48/49</div>
<div class="t s" style="top:495.08px;font-size:9.0px;letter-spacing:0.150px;left:451.48px;width:200px;text-align:center;">50/51</div>
<div class="t s" style="top:495.08px;font-size:9.0px;letter-spacing:0.150px;left:495.23px;width:200px;text-align:center;">52/53</div>
<div class="t s" style="top:495.08px;font-size:9.0px;letter-spacing:0.150px;left:538.98px;width:200px;text-align:center;">55/56</div>
<div class="t s" style="top:513.27px;font-size:8.6px;letter-spacing:-0.127px;left:60.60px;">TO FIT CHEST (cm)</div>
<div class="t s" style="top:512.93px;font-size:9.0px;letter-spacing:0.150px;left:101.47px;width:200px;text-align:center;">82</div>
<div class="t s" style="top:512.93px;font-size:9.0px;letter-spacing:0.150px;left:145.22px;width:200px;text-align:center;">87</div>
<div class="t s" style="top:512.93px;font-size:9.0px;letter-spacing:0.150px;left:188.98px;width:200px;text-align:center;">92</div>
<div class="t s" style="top:512.93px;font-size:9.0px;letter-spacing:0.150px;left:232.73px;width:200px;text-align:center;">97</div>
<div class="t s" style="top:512.93px;font-size:9.0px;letter-spacing:0.150px;left:276.48px;width:200px;text-align:center;">102</div>
<div class="t s" style="top:512.93px;font-size:9.0px;letter-spacing:0.150px;left:320.23px;width:200px;text-align:center;">107</div>
<div class="t s" style="top:512.93px;font-size:9.0px;letter-spacing:0.150px;left:363.98px;width:200px;text-align:center;">112</div>
<div class="t s" style="top:512.93px;font-size:9.0px;letter-spacing:0.150px;left:407.73px;width:200px;text-align:center;">117</div>
<div class="t s" style="top:512.93px;font-size:9.0px;letter-spacing:0.150px;left:451.48px;width:200px;text-align:center;">122</div>
<div class="t s" style="top:512.93px;font-size:9.0px;letter-spacing:0.150px;left:495.23px;width:200px;text-align:center;">127</div>
<div class="t s" style="top:512.93px;font-size:9.0px;letter-spacing:0.150px;left:538.98px;width:200px;text-align:center;">132</div>
<div class="t s" style="top:528.32px;font-size:8.6px;letter-spacing:-0.135px;left:60.60px;">WS WORKWEAR</div>
<div class="t s" style="top:537.12px;font-size:8.6px;letter-spacing:-0.292px;left:60.60px;">RECOMMENDS</div>
<div class="t s" style="top:533.38px;font-size:9.0px;letter-spacing:0.150px;left:101.47px;width:200px;text-align:center;">80-85</div>
<div class="t s" style="top:533.38px;font-size:9.0px;letter-spacing:0.150px;left:145.22px;width:200px;text-align:center;">85-92</div>
<div class="t s" style="top:533.38px;font-size:9.0px;letter-spacing:0.150px;left:188.98px;width:200px;text-align:center;">90-94</div>
<div class="t s" style="top:533.38px;font-size:9.0px;letter-spacing:0.150px;left:232.73px;width:200px;text-align:center;">95-99</div>
<div class="t s" style="top:533.38px;font-size:9.0px;letter-spacing:0.150px;left:276.48px;width:200px;text-align:center;">100-104</div>
<div class="t s" style="top:533.38px;font-size:9.0px;letter-spacing:0.150px;left:320.23px;width:200px;text-align:center;">105-109</div>
<div class="t s" style="top:533.38px;font-size:9.0px;letter-spacing:0.150px;left:363.98px;width:200px;text-align:center;">110-114</div>
<div class="t s" style="top:533.38px;font-size:9.0px;letter-spacing:0.150px;left:407.73px;width:200px;text-align:center;">115-119</div>
<div class="t s" style="top:533.38px;font-size:9.0px;letter-spacing:0.150px;left:451.48px;width:200px;text-align:center;">120-124</div>
<div class="t s" style="top:533.38px;font-size:9.0px;letter-spacing:0.150px;left:495.23px;width:200px;text-align:center;">124-129</div>
<div class="t s" style="top:533.38px;font-size:9.0px;letter-spacing:0.150px;left:538.98px;width:200px;text-align:center;">130-134</div>
<div class="t sw2" style="top:553.90px;font-size:9.1px;font-weight:700;color:#fff;letter-spacing:0.108px;left:60.60px;">WOMEN&#8217;S SHIRT &amp; TROUSERS</div>
<div class="t sg" style="top:572.57px;font-size:8.6px;font-weight:700;color:#1c5a2c;letter-spacing:0.030px;left:60.60px;">SIZE</div>
<div class="t sw2" style="top:572.15px;font-size:9.1px;font-weight:700;color:#fff;letter-spacing:0.850px;left:101.47px;width:200px;text-align:center;">6</div>
<div class="t sw2" style="top:572.15px;font-size:9.1px;font-weight:700;color:#fff;letter-spacing:0.850px;left:145.22px;width:200px;text-align:center;">8</div>
<div class="t sw2" style="top:572.15px;font-size:9.1px;font-weight:700;color:#fff;letter-spacing:0.850px;left:188.98px;width:200px;text-align:center;">10</div>
<div class="t sw2" style="top:572.15px;font-size:9.1px;font-weight:700;color:#fff;letter-spacing:0.850px;left:232.73px;width:200px;text-align:center;">12</div>
<div class="t sw2" style="top:572.15px;font-size:9.1px;font-weight:700;color:#fff;letter-spacing:0.850px;left:276.48px;width:200px;text-align:center;">14</div>
<div class="t sw2" style="top:572.15px;font-size:9.1px;font-weight:700;color:#fff;letter-spacing:0.850px;left:320.23px;width:200px;text-align:center;">16</div>
<div class="t sw2" style="top:572.15px;font-size:9.1px;font-weight:700;color:#fff;letter-spacing:0.850px;left:363.98px;width:200px;text-align:center;">18</div>
<div class="t sw2" style="top:572.15px;font-size:9.1px;font-weight:700;color:#fff;letter-spacing:0.850px;left:407.73px;width:200px;text-align:center;">20</div>
<div class="t sw2" style="top:572.15px;font-size:9.1px;font-weight:700;color:#fff;letter-spacing:0.850px;left:451.48px;width:200px;text-align:center;">22</div>
<div class="t sw2" style="top:572.15px;font-size:9.1px;font-weight:700;color:#fff;letter-spacing:0.850px;left:495.23px;width:200px;text-align:center;">24</div>
<div class="t s" style="top:590.42px;font-size:8.6px;letter-spacing:-0.122px;left:60.60px;">TO FIT NECK (cm)</div>
<div class="t s" style="top:590.08px;font-size:9.0px;letter-spacing:0.150px;left:101.47px;width:200px;text-align:center;">35</div>
<div class="t s" style="top:590.08px;font-size:9.0px;letter-spacing:0.150px;left:145.22px;width:200px;text-align:center;">36</div>
<div class="t s" style="top:590.08px;font-size:9.0px;letter-spacing:0.150px;left:188.98px;width:200px;text-align:center;">37</div>
<div class="t s" style="top:590.08px;font-size:9.0px;letter-spacing:0.150px;left:232.73px;width:200px;text-align:center;">38</div>
<div class="t s" style="top:590.08px;font-size:9.0px;letter-spacing:0.150px;left:276.48px;width:200px;text-align:center;">39</div>
<div class="t s" style="top:590.08px;font-size:9.0px;letter-spacing:0.150px;left:320.23px;width:200px;text-align:center;">41</div>
<div class="t s" style="top:590.08px;font-size:9.0px;letter-spacing:0.150px;left:363.98px;width:200px;text-align:center;">42</div>
<div class="t s" style="top:590.08px;font-size:9.0px;letter-spacing:0.150px;left:407.73px;width:200px;text-align:center;">43</div>
<div class="t s" style="top:590.08px;font-size:9.0px;letter-spacing:0.150px;left:451.48px;width:200px;text-align:center;">44</div>
<div class="t s" style="top:590.08px;font-size:9.0px;letter-spacing:0.150px;left:495.23px;width:200px;text-align:center;">45</div>
<div class="t s" style="top:608.27px;font-size:8.6px;letter-spacing:-0.068px;left:60.60px;">TO FIT BUST (cm)</div>
<div class="t s" style="top:607.93px;font-size:9.0px;letter-spacing:0.150px;left:101.47px;width:200px;text-align:center;">82</div>
<div class="t s" style="top:607.93px;font-size:9.0px;letter-spacing:0.150px;left:145.22px;width:200px;text-align:center;">87</div>
<div class="t s" style="top:607.93px;font-size:9.0px;letter-spacing:0.150px;left:188.98px;width:200px;text-align:center;">92</div>
<div class="t s" style="top:607.93px;font-size:9.0px;letter-spacing:0.150px;left:232.73px;width:200px;text-align:center;">97</div>
<div class="t s" style="top:607.93px;font-size:9.0px;letter-spacing:0.150px;left:276.48px;width:200px;text-align:center;">102</div>
<div class="t s" style="top:607.93px;font-size:9.0px;letter-spacing:0.150px;left:320.23px;width:200px;text-align:center;">107</div>
<div class="t s" style="top:607.93px;font-size:9.0px;letter-spacing:0.150px;left:363.98px;width:200px;text-align:center;">112</div>
<div class="t s" style="top:607.93px;font-size:9.0px;letter-spacing:0.150px;left:407.73px;width:200px;text-align:center;">117</div>
<div class="t s" style="top:607.93px;font-size:9.0px;letter-spacing:0.150px;left:451.48px;width:200px;text-align:center;">122</div>
<div class="t s" style="top:607.93px;font-size:9.0px;letter-spacing:0.150px;left:495.23px;width:200px;text-align:center;">127</div>
<div class="t s" style="top:626.12px;font-size:8.6px;letter-spacing:0.013px;left:60.60px;">TO FIT WAIST (cm)</div>
<div class="t s" style="top:625.78px;font-size:9.0px;letter-spacing:0.150px;left:101.47px;width:200px;text-align:center;">67</div>
<div class="t s" style="top:625.78px;font-size:9.0px;letter-spacing:0.150px;left:145.22px;width:200px;text-align:center;">75</div>
<div class="t s" style="top:625.78px;font-size:9.0px;letter-spacing:0.150px;left:188.98px;width:200px;text-align:center;">77</div>
<div class="t s" style="top:625.78px;font-size:9.0px;letter-spacing:0.150px;left:232.73px;width:200px;text-align:center;">82</div>
<div class="t s" style="top:625.78px;font-size:9.0px;letter-spacing:0.150px;left:276.48px;width:200px;text-align:center;">87</div>
<div class="t s" style="top:625.78px;font-size:9.0px;letter-spacing:0.150px;left:320.23px;width:200px;text-align:center;">92</div>
<div class="t s" style="top:625.78px;font-size:9.0px;letter-spacing:0.150px;left:363.98px;width:200px;text-align:center;">97</div>
<div class="t s" style="top:625.78px;font-size:9.0px;letter-spacing:0.150px;left:407.73px;width:200px;text-align:center;">102</div>
<div class="t s" style="top:625.78px;font-size:9.0px;letter-spacing:0.150px;left:451.48px;width:200px;text-align:center;">107</div>
<div class="t s" style="top:625.78px;font-size:9.0px;letter-spacing:0.150px;left:495.23px;width:200px;text-align:center;">112</div>
<div class="t s" style="top:643.97px;font-size:8.6px;letter-spacing:-0.101px;left:60.60px;">TO FIT HIPS (cm)</div>
<div class="t s" style="top:643.63px;font-size:9.0px;letter-spacing:0.150px;left:101.47px;width:200px;text-align:center;">87</div>
<div class="t s" style="top:643.63px;font-size:9.0px;letter-spacing:0.150px;left:145.22px;width:200px;text-align:center;">93</div>
<div class="t s" style="top:643.63px;font-size:9.0px;letter-spacing:0.150px;left:188.98px;width:200px;text-align:center;">98</div>
<div class="t s" style="top:643.63px;font-size:9.0px;letter-spacing:0.150px;left:232.73px;width:200px;text-align:center;">103</div>
<div class="t s" style="top:643.63px;font-size:9.0px;letter-spacing:0.150px;left:276.48px;width:200px;text-align:center;">108</div>
<div class="t s" style="top:643.63px;font-size:9.0px;letter-spacing:0.150px;left:320.23px;width:200px;text-align:center;">113</div>
<div class="t s" style="top:643.63px;font-size:9.0px;letter-spacing:0.150px;left:363.98px;width:200px;text-align:center;">118</div>
<div class="t s" style="top:643.63px;font-size:9.0px;letter-spacing:0.150px;left:407.73px;width:200px;text-align:center;">123</div>
<div class="t s" style="top:643.63px;font-size:9.0px;letter-spacing:0.150px;left:451.48px;width:200px;text-align:center;">128</div>
<div class="t s" style="top:643.63px;font-size:9.0px;letter-spacing:0.150px;left:495.23px;width:200px;text-align:center;">133</div>
<div class="t sw" style="top:60.85px;font-size:16.6px;font-weight:700;color:#fff;letter-spacing:0.700px;left:56.00px;">MEASURING &amp; FIT SIZE</div>
<div class="t" style="top:60.85px;font-size:16.6px;color:#fff;letter-spacing:-1.041px;left:264.20px;">GUIDE</div>
<div class="t sw2" style="top:60.55px;font-size:8.8px;font-weight:700;color:#fff;letter-spacing:1.028px;left:488.90px;">WS</div>
<div class="t sn" style="top:57.10px;font-size:21.5px;font-weight:700;color:#18305d;letter-spacing:-0.658px;left:524.40px;">WS Workwear</div>
<div class="t sw2" style="top:673.40px;font-size:8.5px;font-weight:700;color:#fff;letter-spacing:-0.032px;left:75.70px;">FOR A COMFORTABLE FIT - IT IS IMPORTANT TO MEASURE CORRECTLY</div>
<div class="t sw2" style="top:688.00px;font-size:8.5px;font-weight:700;color:#fff;letter-spacing:0.014px;left:75.70px;">WHEN MEASURING - MAKE SURE THE TAPE MEASURE IS LEVEL AND NOT TIGHT</div>
<div class="t" style="top:674.97px;font-size:8.9px;color:#2a3f6a;letter-spacing:0.060px;left:441.60px;">This guide follows Australian <b>BODY SIZING</b></div>
<div class="t" style="top:686.07px;font-size:8.9px;color:#2a3f6a;letter-spacing:0.115px;left:441.60px;"><b>MEASUREMENTS</b> recommendation.</div>
<div class="t s" style="top:706.37px;font-size:8.9px;font-weight:700;letter-spacing:0.154px;left:441.60px;">THESE ARE NOT GARMENT MEASUREMENTS</div>
<div class="t" style="top:717.37px;font-size:8.9px;color:#2a3f6a;letter-spacing:0.298px;left:441.60px;">(with the exception to fit waist for short/pants)</div>
<div class="t" style="top:754.90px;font-size:10.4px;font-weight:700;color:#fff;letter-spacing:-0.094px;left:444.20px;">SPECIAL NOTES</div>
<div class="t s" style="top:783.96px;font-size:8.2px;font-weight:700;letter-spacing:0.031px;left:441.60px;">FOR TROUSERS</div>
<div class="t" style="top:795.97px;font-size:8.3px;color:#33435f;letter-spacing:-0.004px;left:441.60px;">Use only waist and inside leg measurements to make</div>
<div class="t" style="top:806.67px;font-size:8.3px;color:#33435f;letter-spacing:0.057px;left:441.60px;">your selection.</div>
<div class="t s" style="top:831.26px;font-size:8.2px;font-weight:700;letter-spacing:0.046px;left:441.60px;">FOR SHIRT CHEST</div>
<div class="t" style="top:841.77px;font-size:8.3px;color:#33435f;letter-spacing:0.100px;left:441.60px;">Please note this is "<b>TO FIT</b>" chest measurement -</div>
<div class="t" style="top:852.07px;font-size:8.3px;color:#33435f;letter-spacing:0.145px;left:441.60px;">shirts chest measurements are bigger for comfort and</div>
<div class="t" style="top:863.17px;font-size:8.3px;color:#33435f;letter-spacing:0.044px;left:441.60px;">movement.</div>
<div class="t s" style="top:888.56px;font-size:8.2px;font-weight:700;letter-spacing:0.062px;left:441.60px;">FOR JACKETS</div>
<div class="t" style="top:900.47px;font-size:8.3px;color:#33435f;letter-spacing:0.036px;left:441.60px;">Use chest measurement only. Jackets are normally</div>
<div class="t" style="top:911.17px;font-size:8.3px;color:#33435f;letter-spacing:-0.021px;left:441.60px;">worn over clothing and have been designed to be</div>
<div class="t" style="top:921.21px;font-size:9.2px;color:#33435f;letter-spacing:0.106px;left:441.60px;">slightly bigger than a shirt.</div>
<div class="t" style="top:712.31px;font-size:7.2px;font-weight:700;letter-spacing:0.150px;left:139.30px;">NECK:</div>
<div class="t" style="top:721.82px;font-size:7.3px;color:#7d7d7d;letter-spacing:0.160px;left:139.30px;">Measure around your neck</div>
<div class="t" style="top:729.52px;font-size:7.3px;color:#7d7d7d;letter-spacing:0.203px;left:139.30px;">where the collar sits, allowing</div>
<div class="t" style="top:737.22px;font-size:7.3px;color:#7d7d7d;letter-spacing:0.237px;left:139.30px;">two fingers behind tape measure</div>
<div class="t" style="top:744.92px;font-size:7.3px;color:#7d7d7d;letter-spacing:0.418px;left:139.30px;">for comfort.</div>
<div class="t" style="top:762.41px;font-size:7.2px;font-weight:700;letter-spacing:0.150px;left:139.30px;">CHEST/BUST:</div>
<div class="t" style="top:771.92px;font-size:7.3px;color:#7d7d7d;letter-spacing:0.239px;left:139.30px;">Measure straight and around</div>
<div class="t" style="top:779.62px;font-size:7.3px;color:#7d7d7d;letter-spacing:0.323px;left:139.30px;">the fullest part of your chest or</div>
<div class="t" style="top:787.32px;font-size:7.3px;color:#7d7d7d;letter-spacing:0.171px;left:139.30px;">bust. Ensuring tape is kept level</div>
<div class="t" style="top:795.02px;font-size:7.3px;color:#7d7d7d;letter-spacing:0.239px;left:139.30px;">and straight across the back.</div>
<div class="t" style="top:815.81px;font-size:7.2px;font-weight:700;letter-spacing:0.150px;left:139.30px;">WAIST:</div>
<div class="t" style="top:825.32px;font-size:7.3px;color:#7d7d7d;letter-spacing:0.291px;left:139.30px;">Measure around natural waist</div>
<div class="t" style="top:833.02px;font-size:7.3px;color:#7d7d7d;letter-spacing:0.125px;left:139.30px;">line. This is where your pants</div>
<div class="t" style="top:840.72px;font-size:7.3px;color:#7d7d7d;letter-spacing:0.167px;left:139.30px;">sit and measure over under</div>
<div class="t" style="top:848.42px;font-size:7.3px;color:#7d7d7d;letter-spacing:0.190px;left:139.30px;">garments and not over pant</div>
<div class="t" style="top:856.12px;font-size:7.3px;color:#7d7d7d;letter-spacing:0.228px;left:139.30px;">waistband. Keep tape label yet</div>
<div class="t" style="top:863.82px;font-size:7.3px;color:#7d7d7d;letter-spacing:0.318px;left:139.30px;">not too tight against skin.</div>
<div class="t" style="top:900.81px;font-size:7.2px;font-weight:700;letter-spacing:0.150px;left:139.30px;">INLEG:</div>
<div class="t" style="top:910.32px;font-size:7.3px;color:#7d7d7d;letter-spacing:0.191px;left:139.30px;">Measure inside leg from the</div>
<div class="t" style="top:918.02px;font-size:7.3px;color:#7d7d7d;letter-spacing:0.271px;left:139.30px;">crotch seam to the heel of the</div>
<div class="t" style="top:925.72px;font-size:7.3px;color:#7d7d7d;letter-spacing:-0.215px;left:139.30px;">shoe.</div>
<div class="t" style="top:805.81px;font-size:7.2px;font-weight:700;letter-spacing:0.150px;left:345.00px;">HIP:</div>
<div class="t" style="top:815.32px;font-size:7.3px;color:#7d7d7d;letter-spacing:0.133px;left:345.00px;">Measure loosely</div>
<div class="t" style="top:823.02px;font-size:7.3px;color:#7d7d7d;letter-spacing:0.291px;left:345.00px;">around the fullest part</div>
<div class="t" style="top:830.72px;font-size:7.3px;color:#7d7d7d;letter-spacing:0.207px;left:345.00px;">of the hips keeping the</div>
<div class="t" style="top:838.42px;font-size:7.3px;color:#7d7d7d;letter-spacing:0.240px;left:345.00px;">tape level at the back</div>
<div class="t" style="top:846.12px;font-size:7.3px;color:#7d7d7d;letter-spacing:0.078px;left:345.00px;">and measure over</div>
<div class="t" style="top:853.82px;font-size:7.3px;color:#7d7d7d;letter-spacing:0.145px;left:345.00px;">undergarments.</div>
</body></html>
